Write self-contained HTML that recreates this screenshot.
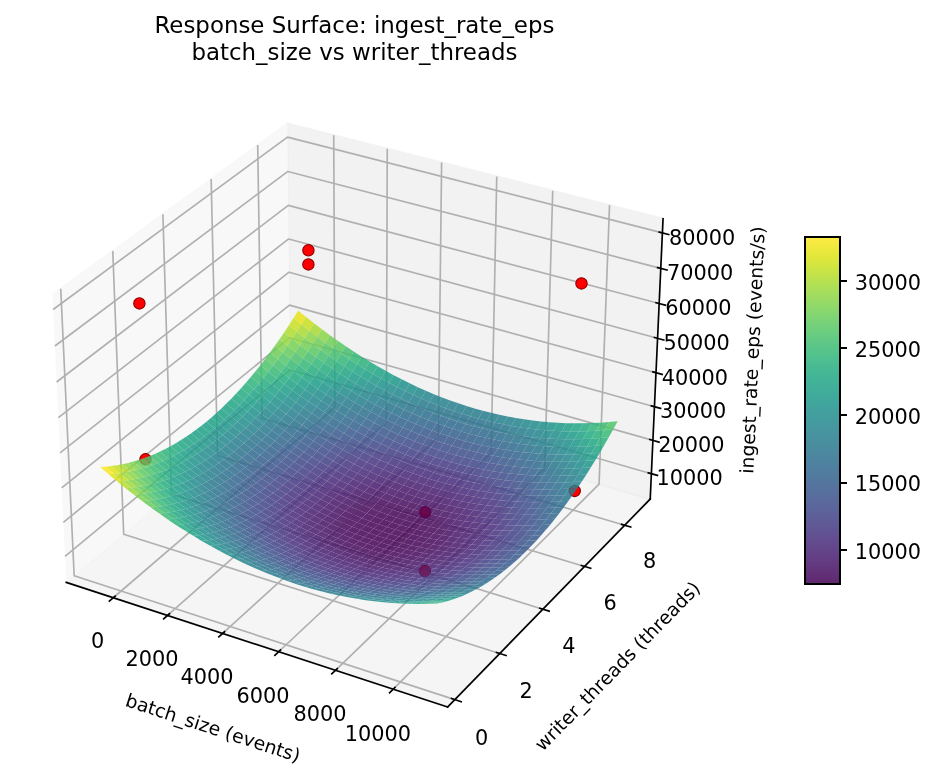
<!DOCTYPE html>
<html lang="en"><head><meta charset="utf-8"><title>Response Surface: ingest_rate_eps</title><style>html,body{margin:0;padding:0;background:#fff}svg{display:block}</style></head><body><svg width="935" height="765" viewBox="64.8 20.616 448.8 367.2" stroke-linejoin="round" stroke-linecap="butt" font-family="'DejaVu Sans','Liberation Sans',sans-serif"><g><g><path d="M0 432L576 432L576 0L0 0z" fill="#ffffff"/></g><g id="cube" transform="translate(0 -.576)"><g><path d="M72 381.096L397.872 381.096L397.872 55.224L72 55.224z" fill="#ffffff"/></g><g><g><path d="M96.606 300.746L204.219 210.543L202.723 80.453L89.96 162.742" fill="#f2f2f2" opacity="0.5" stroke="#f2f2f2" stroke-linejoin="miter"/></g></g><g><g><path d="M204.219 210.543L376.901 260.734L383.063 126.163L202.723 80.453" fill="#e6e6e6" opacity="0.5" stroke="#e6e6e6" stroke-linejoin="miter"/></g></g><g><g><path d="M96.606 300.746L279.656 360.531L376.901 260.734L204.219 210.543" fill="#ececec" opacity="0.5" stroke="#ececec" stroke-linejoin="miter"/></g></g><g><g><path d="M119.159 308.112L225.577 216.75L224.987 86.096" fill="none" stroke="#b0b0b0" stroke-width="0.8"/><path d="M145.211 316.621L250.22 223.913L250.69 92.611" fill="none" stroke="#b0b0b0" stroke-width="0.8"/><path d="M171.665 325.261L275.212 231.177L276.772 99.222" fill="none" stroke="#b0b0b0" stroke-width="0.8"/><path d="M198.531 334.035L300.559 238.545L303.242 105.931" fill="none" stroke="#b0b0b0" stroke-width="0.8"/><path d="M225.818 342.947L326.27 246.018L330.108 112.741" fill="none" stroke="#b0b0b0" stroke-width="0.8"/><path d="M253.536 352L352.353 253.599L357.38 119.654" fill="none" stroke="#b0b0b0" stroke-width="0.8"/></g></g><g><g><path d="M93.95 159.83L100.399 297.566L283.099 356.997" fill="none" stroke="#b0b0b0" stroke-width="0.8"/><path d="M118.927 141.603L124.172 277.64L304.648 334.883" fill="none" stroke="#b0b0b0" stroke-width="0.8"/><path d="M142.976 124.053L147.099 258.422L325.391 313.595" fill="none" stroke="#b0b0b0" stroke-width="0.8"/><path d="M166.149 107.143L169.225 239.875L345.373 293.089" fill="none" stroke="#b0b0b0" stroke-width="0.8"/><path d="M188.491 90.839L190.592 221.965L364.634 273.323" fill="none" stroke="#b0b0b0" stroke-width="0.8"/></g></g><g><g><path d="M377.458 248.565L204.084 198.756L96.006 288.286" fill="none" stroke="#b0b0b0" stroke-width="0.8"/><path d="M378.19 232.578L203.906 183.279L95.217 271.911" fill="none" stroke="#b0b0b0" stroke-width="0.8"/><path d="M378.93 216.421L203.726 167.644L94.42 255.354" fill="none" stroke="#b0b0b0" stroke-width="0.8"/><path d="M379.678 200.09L203.544 151.85L93.613 238.613" fill="none" stroke="#b0b0b0" stroke-width="0.8"/><path d="M380.434 183.584L203.361 135.894L92.798 221.684" fill="none" stroke="#b0b0b0" stroke-width="0.8"/><path d="M381.198 166.898L203.175 119.773L91.974 204.566" fill="none" stroke="#b0b0b0" stroke-width="0.8"/><path d="M381.97 150.031L202.988 103.486L91.14 187.253" fill="none" stroke="#b0b0b0" stroke-width="0.8"/><path d="M382.751 132.98L202.799 87.029L90.297 169.743" fill="none" stroke="#b0b0b0" stroke-width="0.8"/></g></g><g><g><path d="M96.606 300.746L279.656 360.531" fill="none" stroke="#000" stroke-width="0.8" stroke-linecap="square"/></g><g><g><path d="M120.086 307.316L117.301 309.707" fill="none" stroke="#000" stroke-width="0.8" stroke-linecap="square"/></g><g><text x="111.644" y="332.051" font-size="10" text-anchor="middle">0</text></g></g><g><g><path d="M146.126 315.813L143.377 318.24" fill="none" stroke="#000" stroke-width="0.8" stroke-linecap="square"/></g><g><text x="137.719" y="340.707" font-size="10" text-anchor="middle">2000</text></g></g><g><g><path d="M172.568 324.44L169.855 326.906" fill="none" stroke="#000" stroke-width="0.8" stroke-linecap="square"/></g><g><text x="164.197" y="349.497" font-size="10" text-anchor="middle">4000</text></g></g><g><g><path d="M199.422 333.202L196.747 335.706" fill="none" stroke="#000" stroke-width="0.8" stroke-linecap="square"/></g><g><text x="191.088" y="358.424" font-size="10" text-anchor="middle">6000</text></g></g><g><g><path d="M226.695 342.101L224.06 344.644" fill="none" stroke="#000" stroke-width="0.8" stroke-linecap="square"/></g><g><text x="218.402" y="367.491" font-size="10" text-anchor="middle">8000</text></g></g><g><g><path d="M254.399 351.14L251.805 353.723" fill="none" stroke="#000" stroke-width="0.8" stroke-linecap="square"/></g><g><text x="246.149" y="376.702" font-size="10" text-anchor="middle">10000</text></g></g><g><text x="166.096" y="373.566" transform="rotate(-341.913 166.096 373.566)" font-size="9" text-anchor="middle">batch_size (events)</text></g></g><g><g><path d="M376.901 260.734L279.656 360.531" fill="none" stroke="#000" stroke-width="0.8" stroke-linecap="square"/></g><g><g><path d="M281.559 356.497L286.183 358.001" fill="none" stroke="#000" stroke-width="0.8" stroke-linecap="square"/></g><g><text x="296.014" y="378.635" font-size="10" text-anchor="middle">0</text></g></g><g><g><path d="M303.129 334.401L307.692 335.848" fill="none" stroke="#000" stroke-width="0.8" stroke-linecap="square"/></g><g><text x="317.328" y="356.252" font-size="10" text-anchor="middle">2</text></g></g><g><g><path d="M323.892 313.131L328.395 314.525" fill="none" stroke="#000" stroke-width="0.8" stroke-linecap="square"/></g><g><text x="337.843" y="334.708" font-size="10" text-anchor="middle">4</text></g></g><g><g><path d="M343.892 292.642L348.337 293.985" fill="none" stroke="#000" stroke-width="0.8" stroke-linecap="square"/></g><g><text x="357.605" y="313.955" font-size="10" text-anchor="middle">6</text></g></g><g><g><path d="M363.172 272.892L367.56 274.187" fill="none" stroke="#000" stroke-width="0.8" stroke-linecap="square"/></g><g><text x="376.654" y="293.951" font-size="10" text-anchor="middle">8</text></g></g><g><text x="363.428" y="343.111" transform="rotate(-45.742 363.428 343.111)" font-size="9" text-anchor="middle">writer_threads (threads)</text></g></g><g><g><path d="M376.901 260.734L383.063 126.163" fill="none" stroke="#000" stroke-width="0.8" stroke-linecap="square"/></g><g><g><path d="M376.002 248.147L380.372 249.403" fill="none" stroke="#000" stroke-width="0.8" stroke-linecap="square"/></g><g><text x="395.789" y="254.153" font-size="10" text-anchor="middle">10000</text></g></g><g><g><path d="M376.727 232.164L381.12 233.407" fill="none" stroke="#000" stroke-width="0.8" stroke-linecap="square"/></g><g><text x="396.616" y="238.192" font-size="10" text-anchor="middle">20000</text></g></g><g><g><path d="M377.458 216.011L381.876 217.241" fill="none" stroke="#000" stroke-width="0.8" stroke-linecap="square"/></g><g><text x="397.452" y="222.061" font-size="10" text-anchor="middle">30000</text></g></g><g><g><path d="M378.198 199.685L382.64 200.902" fill="none" stroke="#000" stroke-width="0.8" stroke-linecap="square"/></g><g><text x="398.297" y="205.757" font-size="10" text-anchor="middle">40000</text></g></g><g><g><path d="M378.946 183.183L383.413 184.386" fill="none" stroke="#000" stroke-width="0.8" stroke-linecap="square"/></g><g><text x="399.151" y="189.279" font-size="10" text-anchor="middle">50000</text></g></g><g><g><path d="M379.701 166.502L384.194 167.691" fill="none" stroke="#000" stroke-width="0.8" stroke-linecap="square"/></g><g><text x="400.014" y="172.622" font-size="10" text-anchor="middle">60000</text></g></g><g><g><path d="M380.465 149.64L384.983 150.815" fill="none" stroke="#000" stroke-width="0.8" stroke-linecap="square"/></g><g><text x="400.887" y="155.785" font-size="10" text-anchor="middle">70000</text></g></g><g><g><path d="M381.238 132.593L385.781 133.753" fill="none" stroke="#000" stroke-width="0.8" stroke-linecap="square"/></g><g><text x="401.769" y="138.763" font-size="10" text-anchor="middle">80000</text></g></g><g><text x="429.122" y="189.33" transform="rotate(-87.378 429.122 189.33)" font-size="9" text-anchor="middle">ingest_rate_eps (events/s)</text></g></g><g><g><defs><path id="m006bedfbd0" d="M0 2.739C.726 2.739 1.423 2.45 1.936 1.936C2.45 1.423 2.739 .726 2.739 0C2.739-.726 2.45-1.423 1.936-1.936C1.423-2.45 .726-2.739 0-2.739C-.726-2.739-1.423-2.45-1.936-1.936C-2.45-1.423-2.739-.726-2.739 0C-2.739 .726-2.45 1.423-1.936 1.936C-1.423 2.45-.726 2.739 0 2.739z" stroke="#8b0000" stroke-width="0.5"/></defs><g><use x="212.832" y="148.104" fill="#ff0000" stroke="#8b0000" stroke-width="0.5" href="#m006bedfbd0"/><use x="212.832" y="141.336" fill="#ff0000" stroke="#8b0000" stroke-width="0.5" href="#m006bedfbd0"/><use x="340.656" y="256.824" fill="#ff0000" stroke="#8b0000" stroke-width="0.5" href="#m006bedfbd0"/><use x="343.92" y="157.224" fill="#ff0000" stroke="#8b0000" stroke-width="0.5" href="#m006bedfbd0"/><use x="134.64" y="241.656" fill="#ff0000" stroke="#8b0000" stroke-width="0.5" href="#m006bedfbd0"/><use x="131.712" y="166.824" fill="#ff0000" stroke="#8b0000" stroke-width="0.5" href="#m006bedfbd0"/><use x="268.704" y="295.272" fill="#ff0000" stroke="#8b0000" stroke-width="0.5" href="#m006bedfbd0"/><use x="268.944" y="267.048" fill="#ff0000" stroke="#8b0000" stroke-width="0.5" href="#m006bedfbd0"/></g></g><g fill-opacity=".85"><path d="M205.7 173.87l3.8 3.08 2.24-3.57-3.8-3.08z" fill="#e7e419"/><path d="M209.5 176.95l3.8 3 2.24-3.59-3.8-2.98z" fill="#c8e020"/><path d="M213.3 179.95l3.81 2.9 2.23-3.59-3.8-2.9z" fill="#a8db34"/><path d="M203.45 177.35l3.8 3.09 2.25-3.49-3.8-3.08z" fill="#cae11f"/><path d="M217.11 182.85l3.81 2.82 2.23-3.6-3.81-2.81z" fill="#8bd646"/><path d="M207.25 180.44l3.81 3.01 2.24-3.5-3.8-3z" fill="#aadc32"/><path d="M220.92 185.67l3.82 2.72 2.22-3.61-3.81-2.71z" fill="#70cf57"/><path d="M211.06 183.45l3.81 2.91 2.24-3.51-3.81-2.9z" fill="#8bd646"/><path d="M224.74 188.39l3.81 2.64 2.22-3.62-3.81-2.63z" fill="#5ac864"/><path d="M201.19 180.75l3.81 3.1 2.25-3.41-3.8-3.09z" fill="#b0dd2f"/><path d="M214.87 186.36l3.82 2.83 2.23-3.52-3.81-2.82z" fill="#70cf57"/><path d="M228.55 191.03l3.83 2.54 2.21-3.62-3.82-2.54z" fill="#46c06f"/><path d="M205 183.85l3.81 3.01 2.25-3.41-3.81-3.01z" fill="#90d743"/><path d="M218.69 189.19l3.82 2.73 2.23-3.53-3.82-2.72z" fill="#58c765"/><path d="M208.81 186.86l3.82 2.93 2.24-3.43-3.81-2.91z" fill="#73d056"/><path d="M232.38 193.57l3.82 2.46 2.22-3.64-3.83-2.44z" fill="#38b977"/><path d="M222.51 191.92l3.82 2.64 2.22-3.53-3.81-2.64z" fill="#44bf70"/><path d="M198.93 184.06l3.81 3.12 2.26-3.33-3.81-3.1z" fill="#98d83e"/><path d="M212.63 189.79l3.82 2.83 2.24-3.43-3.82-2.83z" fill="#5ac864"/><path d="M236.2 196.03l3.83 2.37 2.21-3.65-3.82-2.36z" fill="#2cb17e"/><path d="M226.33 194.56l3.82 2.56 2.23-3.55-3.83-2.54z" fill="#35b779"/><path d="M202.74 187.18l3.82 3.02 2.25-3.34-3.81-3.01z" fill="#77d153"/><path d="M216.45 192.62l3.82 2.74 2.24-3.44-3.82-2.73z" fill="#44bf70"/><path d="M206.56 190.2l3.82 2.93 2.25-3.34-3.82-2.93z" fill="#5ec962"/><path d="M230.15 197.12l3.83 2.46 2.22-3.55-3.82-2.46z" fill="#29af7f"/><path d="M240.03 198.4l3.84 2.27 2.21-3.65-3.84-2.27z" fill="#24aa83"/><path d="M220.27 195.36l3.82 2.65 2.24-3.45-3.82-2.64z" fill="#34b679"/><path d="M210.38 193.13l3.82 2.84 2.25-3.35-3.82-2.83z" fill="#46c06f"/><path d="M196.65 187.3l3.82 3.11 2.27-3.23-3.81-3.12z" fill="#81d34d"/><path d="M233.98 199.58l3.84 2.38 2.21-3.56-3.83-2.37z" fill="#22a785"/><path d="M224.09 198.01l3.83 2.57 2.23-3.46-3.82-2.56z" fill="#28ae80"/><path d="M243.87 200.67l3.84 2.19 2.21-3.66-3.84-2.18z" fill="#20a386"/><path d="M200.47 190.41l3.82 3.03 2.27-3.24-3.82-3.02z" fill="#65cb5e"/><path d="M214.2 195.97l3.83 2.75 2.24-3.36-3.82-2.74z" fill="#35b779"/><path d="M237.82 201.96l3.84 2.28 2.21-3.57-3.84-2.27z" fill="#1fa188"/><path d="M204.29 193.44l3.83 2.94 2.26-3.25-3.82-2.93z" fill="#4cc26c"/><path d="M227.92 200.58l3.84 2.47 2.22-3.47-3.83-2.46z" fill="#21a685"/><path d="M247.71 202.86l3.85 2.1 2.2-3.67-3.84-2.09z" fill="#1f9e89"/><path d="M218.03 198.72l3.82 2.66 2.24-3.37-3.82-2.65z" fill="#28ae80"/><path d="M208.12 196.38l3.82 2.85 2.26-3.26-3.82-2.84z" fill="#37b878"/><path d="M194.37 190.44l3.83 3.13 2.27-3.16-3.82-3.11z" fill="#6ece58"/><path d="M231.76 203.05l3.84 2.38 2.22-3.47-3.84-2.38z" fill="#1f9e89"/><path d="M241.66 204.24l3.84 2.2 2.21-3.58-3.84-2.19z" fill="#1f9a8a"/><path d="M221.85 201.38l3.84 2.57 2.23-3.37-3.83-2.57z" fill="#21a585"/><path d="M251.56 204.96l3.86 2.01 2.19-3.68-3.85-2z" fill="#1f988b"/><path d="M198.2 193.57l3.82 3.04 2.27-3.17-3.82-3.03z" fill="#52c569"/><path d="M211.94 199.23l3.83 2.76 2.26-3.27-3.83-2.75z" fill="#29af7f"/><path d="M235.6 205.43l3.84 2.29 2.22-3.48-3.84-2.28z" fill="#1f968b"/><path d="M225.69 203.95l3.84 2.48 2.23-3.38-3.84-2.47z" fill="#1e9d89"/><path d="M245.5 206.44l3.86 2.1 2.2-3.58-3.85-2.1z" fill="#20938c"/><path d="M202.02 196.61l3.83 2.95 2.27-3.18-3.83-2.94z" fill="#3bbb75"/><path d="M215.77 201.99l3.84 2.67 2.24-3.28-3.82-2.66z" fill="#21a685"/><path d="M255.42 206.97l3.86 1.92 2.19-3.69-3.86-1.91z" fill="#20928c"/><path d="M205.85 199.56l3.83 2.85 2.26-3.18-3.82-2.85z" fill="#2cb17e"/><path d="M192.08 193.5l3.83 3.14 2.29-3.07-3.83-3.13z" fill="#5cc863"/><path d="M229.53 206.43l3.84 2.39 2.23-3.39-3.84-2.38z" fill="#1f958b"/><path d="M239.44 207.72l3.85 2.21 2.21-3.49-3.84-2.2z" fill="#21908d"/><path d="M219.61 204.66l3.84 2.58 2.24-3.29-3.84-2.57z" fill="#1e9d89"/><path d="M249.36 208.54l3.85 2.02 2.21-3.59-3.86-2.01z" fill="#218e8d"/><path d="M195.91 196.64l3.83 3.05 2.28-3.08-3.82-3.04z" fill="#44bf70"/><path d="M209.68 202.41l3.84 2.77 2.25-3.19-3.83-2.76z" fill="#22a785"/><path d="M259.28 208.89l3.87 1.82 2.19-3.69-3.87-1.82z" fill="#218f8d"/><path d="M233.37 208.82l3.85 2.31 2.22-3.41-3.84-2.29z" fill="#218e8d"/><path d="M243.29 209.93l3.86 2.11 2.21-3.5-3.86-2.1z" fill="#238a8d"/><path d="M223.45 207.24l3.84 2.49 2.24-3.3-3.84-2.48z" fill="#1f948c"/><path d="M199.74 199.69l3.84 2.95 2.27-3.08-3.83-2.95z" fill="#31b57b"/><path d="M253.21 210.56l3.87 1.93 2.2-3.6-3.86-1.92z" fill="#23898e"/><path d="M213.52 205.18l3.83 2.68 2.26-3.2-3.84-2.67z" fill="#1f9e89"/><path d="M263.15 210.71l3.87 1.74 2.19-3.7-3.87-1.73z" fill="#238a8d"/><path d="M203.58 202.64l3.83 2.87 2.27-3.1-3.83-2.85z" fill="#24aa83"/><path d="M237.22 211.13l3.85 2.21 2.22-3.41-3.85-2.21z" fill="#24878e"/><path d="M227.29 209.73l3.84 2.4 2.24-3.31-3.84-2.39z" fill="#228d8d"/><path d="M189.78 196.48l3.84 3.15 2.29-2.99-3.83-3.14z" fill="#4ec36b"/><path d="M247.15 212.04l3.86 2.03 2.2-3.51-3.85-2.02z" fill="#25848e"/><path d="M217.35 207.86l3.85 2.59 2.25-3.21-3.84-2.58z" fill="#1f958b"/><path d="M257.08 212.49l3.87 1.83 2.2-3.61-3.87-1.82z" fill="#25848e"/><path d="M207.41 205.51l3.84 2.78 2.27-3.11-3.84-2.77z" fill="#1fa188"/><path d="M193.62 199.63l3.83 3.05 2.29-2.99-3.83-3.05z" fill="#38b977"/><path d="M231.13 212.13l3.86 2.31 2.23-3.31-3.85-2.31z" fill="#25858e"/><path d="M241.07 213.34l3.86 2.12 2.22-3.42-3.86-2.11z" fill="#26818e"/><path d="M221.2 210.45l3.84 2.5 2.25-3.22-3.84-2.49z" fill="#228d8d"/><path d="M267.02 212.45l3.89 1.65 2.18-3.71-3.88-1.64z" fill="#24878e"/><path d="M251.01 214.07l3.87 1.93 2.2-3.51-3.87-1.93z" fill="#277f8e"/><path d="M197.45 202.68l3.84 2.97 2.29-3.01-3.84-2.95z" fill="#28ae80"/><path d="M211.25 208.29l3.84 2.68 2.26-3.11-3.83-2.68z" fill="#1f968b"/><path d="M260.95 214.32l3.88 1.75 2.19-3.62-3.87-1.74z" fill="#27808e"/><path d="M234.99 214.44l3.85 2.22 2.23-3.32-3.85-2.21z" fill="#277f8e"/><path d="M225.04 212.95l3.85 2.4 2.24-3.22-3.84-2.4z" fill="#25848e"/><path d="M201.29 205.65l3.84 2.87 2.28-3.01-3.83-2.87z" fill="#20a386"/><path d="M244.93 215.46l3.86 2.03 2.22-3.42-3.86-2.03z" fill="#297b8e"/><path d="M187.48 199.37l3.84 3.16 2.3-2.9-3.84-3.15z" fill="#42be71"/><path d="M215.09 210.97l3.85 2.6 2.26-3.12-3.85-2.59z" fill="#218e8d"/><path d="M254.88 216l3.87 1.85 2.2-3.53-3.87-1.83z" fill="#297a8e"/><path d="M270.91 214.1l3.89 1.56 2.18-3.72-3.89-1.55z" fill="#25848e"/><path d="M205.13 208.52l3.85 2.79 2.27-3.02-3.84-2.78z" fill="#1f998a"/><path d="M191.32 202.53l3.84 3.06 2.29-2.91-3.83-3.05z" fill="#2eb37c"/><path d="M228.89 215.35l3.86 2.32 2.24-3.23-3.86-2.31z" fill="#287d8e"/><path d="M238.84 216.66l3.87 2.13 2.22-3.33-3.86-2.12z" fill="#2a788e"/><path d="M264.83 216.07l3.89 1.66 2.19-3.63-3.89-1.65z" fill="#287d8e"/><path d="M218.94 213.57l3.85 2.51 2.25-3.13-3.84-2.5z" fill="#25858e"/><path d="M248.79 217.49l3.88 1.95 2.21-3.44-3.87-1.93z" fill="#2a768e"/><path d="M195.16 205.59l3.84 2.98 2.29-2.92-3.84-2.97z" fill="#22a884"/><path d="M208.98 211.31l3.84 2.69 2.27-3.03-3.84-2.68z" fill="#21908d"/><path d="M258.75 217.85l3.88 1.76 2.2-3.54-3.88-1.75z" fill="#2a768e"/><path d="M274.8 215.66l3.9 1.47 2.18-3.72-3.9-1.47z" fill="#26828e"/><path d="M232.75 217.67l3.86 2.23 2.23-3.24-3.85-2.22z" fill="#2a768e"/><path d="M242.71 218.79l3.87 2.05 2.21-3.35-3.86-2.03z" fill="#2c728e"/><path d="M222.79 216.08l3.86 2.41 2.24-3.14-3.85-2.4z" fill="#287d8e"/><path d="M199 208.57l3.85 2.88 2.28-2.93-3.84-2.87z" fill="#1f9e89"/><path d="M268.72 217.73l3.89 1.57 2.19-3.64-3.89-1.56z" fill="#297a8e"/><path d="M252.67 219.44l3.88 1.85 2.2-3.44-3.87-1.85z" fill="#2c718e"/><path d="M212.82 214l3.86 2.61 2.26-3.04-3.85-2.6z" fill="#24878e"/><path d="M185.16 202.18l3.85 3.16 2.31-2.81-3.84-3.16z" fill="#38b977"/><path d="M262.63 219.61l3.89 1.66 2.2-3.54-3.89-1.66z" fill="#2c728e"/><path d="M202.85 211.45l3.85 2.79 2.28-2.93-3.85-2.79z" fill="#20938c"/><path d="M236.61 219.9l3.87 2.14 2.23-3.25-3.87-2.13z" fill="#2d718e"/><path d="M226.65 218.49l3.86 2.33 2.24-3.15-3.86-2.32z" fill="#2a768e"/><path d="M189.01 205.34l3.84 3.08 2.31-2.83-3.84-3.06z" fill="#27ad81"/><path d="M246.58 220.84l3.87 1.95 2.22-3.35-3.88-1.95z" fill="#2e6d8e"/><path d="M278.7 217.13l3.91 1.38 2.17-3.73-3.9-1.37z" fill="#27808e"/><path d="M216.68 216.61l3.85 2.51 2.26-3.04-3.85-2.51z" fill="#277f8e"/><path d="M256.55 221.29l3.88 1.77 2.2-3.45-3.88-1.76z" fill="#2e6d8e"/><path d="M272.61 219.3l3.91 1.48 2.18-3.65-3.9-1.47z" fill="#2a778e"/><path d="M192.85 208.42l3.85 2.98 2.3-2.83-3.84-2.98z" fill="#1fa287"/><path d="M206.7 214.24l3.85 2.71 2.27-2.95-3.84-2.69z" fill="#238a8d"/><path d="M230.51 220.82l3.86 2.24 2.24-3.16-3.86-2.23z" fill="#2e6f8e"/><path d="M240.48 222.04l3.87 2.05 2.23-3.25-3.87-2.05z" fill="#306a8e"/><path d="M220.53 219.12l3.86 2.43 2.26-3.06-3.86-2.41z" fill="#2a768e"/><path d="M266.52 221.27l3.9 1.58 2.19-3.55-3.89-1.57z" fill="#2d708e"/><path d="M250.45 222.79l3.88 1.86 2.22-3.36-3.88-1.85z" fill="#30698e"/><path d="M196.7 211.4l3.85 2.89 2.3-2.84-3.85-2.88z" fill="#1f988b"/><path d="M210.55 216.95l3.85 2.61 2.28-2.95-3.86-2.61z" fill="#26818e"/><path d="M282.61 218.51l3.92 1.29 2.17-3.74-3.92-1.28z" fill="#277f8e"/><path d="M182.84 204.9l3.85 3.17 2.32-2.73-3.85-3.16z" fill="#2fb47c"/><path d="M260.43 223.06l3.9 1.67 2.19-3.46-3.89-1.66z" fill="#306a8e"/><path d="M276.52 220.78l3.91 1.38 2.18-3.65-3.91-1.38z" fill="#2b758e"/><path d="M234.37 223.06l3.87 2.15 2.24-3.17-3.87-2.14z" fill="#30698e"/><path d="M224.39 221.55l3.87 2.34 2.25-3.07-3.86-2.33z" fill="#2e6f8e"/><path d="M200.55 214.29l3.86 2.81 2.29-2.86-3.85-2.79z" fill="#218e8d"/><path d="M244.35 224.09l3.88 1.96 2.22-3.26-3.87-1.95z" fill="#32658e"/><path d="M186.69 208.07l3.85 3.09 2.31-2.74-3.84-3.08z" fill="#23a983"/><path d="M214.4 219.56l3.86 2.53 2.27-2.97-3.85-2.51z" fill="#2a788e"/><path d="M270.42 222.85l3.91 1.49 2.19-3.56-3.91-1.48z" fill="#2e6e8e"/><path d="M254.33 224.65l3.89 1.77 2.21-3.36-3.88-1.77z" fill="#32648e"/><path d="M204.41 217.1l3.85 2.71 2.29-2.86-3.85-2.71z" fill="#25848e"/><path d="M190.54 211.16l3.85 2.99 2.31-2.75-3.85-2.98z" fill="#1f9e89"/><path d="M286.53 219.8l3.93 1.2 2.16-3.75-3.92-1.19z" fill="#277e8e"/><path d="M228.26 223.89l3.86 2.24 2.25-3.07-3.86-2.24z" fill="#31688e"/><path d="M264.33 224.73l3.9 1.59 2.19-3.47-3.9-1.58z" fill="#31678e"/><path d="M238.24 225.21l3.88 2.06 2.23-3.18-3.87-2.05z" fill="#33638d"/><path d="M218.26 222.09l3.87 2.43 2.26-2.97-3.86-2.43z" fill="#2d718e"/><path d="M248.23 226.05l3.89 1.88 2.21-3.28-3.88-1.86z" fill="#34608d"/><path d="M280.43 222.16l3.92 1.3 2.18-3.66-3.92-1.29z" fill="#2b748e"/><path d="M194.39 214.15l3.86 2.9 2.3-2.76-3.85-2.89z" fill="#20928c"/><path d="M208.26 219.81l3.86 2.62 2.28-2.87-3.85-2.61z" fill="#297b8e"/><path d="M258.22 226.42l3.9 1.69 2.21-3.38-3.9-1.67z" fill="#34618d"/><path d="M274.33 224.34l3.92 1.39 2.18-3.57-3.91-1.38z" fill="#2f6c8e"/><path d="M180.51 207.54l3.85 3.18 2.33-2.65-3.85-3.17z" fill="#2ab07f"/><path d="M232.12 226.13l3.88 2.16 2.24-3.08-3.87-2.15z" fill="#34618d"/><path d="M242.12 227.27l3.88 1.97 2.23-3.19-3.88-1.96z" fill="#365d8d"/><path d="M222.13 224.52l3.87 2.35 2.26-2.98-3.87-2.34z" fill="#30698e"/><path d="M198.25 217.05l3.86 2.81 2.3-2.76-3.86-2.81z" fill="#23888e"/><path d="M268.23 226.32l3.91 1.49 2.19-3.47-3.91-1.49z" fill="#32648e"/><path d="M252.12 227.93l3.89 1.78 2.21-3.29-3.89-1.77z" fill="#365c8d"/><path d="M290.46 221l3.93 1.11 2.17-3.76-3.94-1.1z" fill="#277e8e"/><path d="M184.36 210.72l3.86 3.09 2.32-2.65-3.85-3.09z" fill="#20a486"/><path d="M212.12 222.43l3.87 2.54 2.27-2.88-3.86-2.53z" fill="#2c728e"/><path d="M284.35 223.46l3.93 1.21 2.18-3.67-3.93-1.2z" fill="#2c738e"/><path d="M262.12 228.11l3.91 1.59 2.2-3.38-3.9-1.59z" fill="#365d8d"/><path d="M202.11 219.86l3.86 2.73 2.29-2.78-3.85-2.71z" fill="#277f8e"/><path d="M236 228.29l3.88 2.07 2.24-3.09-3.88-2.06z" fill="#375b8d"/><path d="M188.22 213.81l3.86 3 2.31-2.66-3.85-2.99z" fill="#1f998a"/><path d="M226 226.87l3.87 2.25 2.25-2.99-3.86-2.24z" fill="#34618d"/><path d="M278.25 225.73l3.92 1.31 2.18-3.58-3.92-1.3z" fill="#2f6b8e"/><path d="M246 229.24l3.89 1.88 2.23-3.19-3.89-1.88z" fill="#38588c"/><path d="M215.99 224.97l3.87 2.44 2.27-2.89-3.87-2.43z" fill="#306a8e"/><path d="M256.01 229.71l3.9 1.69 2.21-3.29-3.9-1.69z" fill="#38588c"/><path d="M272.14 227.81l3.92 1.41 2.19-3.49-3.92-1.39z" fill="#33628d"/><path d="M192.08 216.81l3.86 2.91 2.31-2.67-3.86-2.9z" fill="#218e8d"/><path d="M205.97 222.59l3.87 2.63 2.28-2.79-3.86-2.62z" fill="#2a768e"/><path d="M294.39 222.11l3.95 1.02 2.17-3.77-3.95-1.01z" fill="#277e8e"/><path d="M229.87 229.12l3.88 2.17 2.25-3-3.88-2.16z" fill="#375b8d"/><path d="M178.16 210.09l3.86 3.19 2.34-2.56-3.85-3.18z" fill="#25ac82"/><path d="M239.88 230.36l3.89 1.98 2.23-3.1-3.88-1.97z" fill="#39558c"/><path d="M266.03 229.7l3.91 1.5 2.2-3.39-3.91-1.49z" fill="#375b8d"/><path d="M288.28 224.67l3.94 1.12 2.17-3.68-3.93-1.11z" fill="#2c738e"/><path d="M219.86 227.41l3.87 2.35 2.27-2.89-3.87-2.35z" fill="#33638d"/><path d="M249.89 231.12l3.9 1.79 2.22-3.2-3.89-1.78z" fill="#3a538b"/><path d="M195.94 219.72l3.86 2.83 2.31-2.69-3.86-2.81z" fill="#25848e"/><path d="M282.17 227.04l3.93 1.22 2.18-3.59-3.93-1.21z" fill="#306a8e"/><path d="M209.84 225.22l3.87 2.54 2.28-2.79-3.87-2.54z" fill="#2e6e8e"/><path d="M182.02 213.28l3.87 3.1 2.33-2.57-3.86-3.09z" fill="#1fa188"/><path d="M259.91 231.4l3.91 1.6 2.21-3.3-3.91-1.59z" fill="#3a548c"/><path d="M276.06 229.22l3.92 1.31 2.19-3.49-3.92-1.31z" fill="#34618d"/><path d="M233.75 231.29l3.89 2.07 2.24-3-3.88-2.07z" fill="#3a548c"/><path d="M199.8 222.55l3.87 2.73 2.3-2.69-3.86-2.73z" fill="#297a8e"/><path d="M223.73 229.76l3.88 2.27 2.26-2.91-3.87-2.25z" fill="#375b8d"/><path d="M243.77 232.34l3.89 1.88 2.23-3.1-3.89-1.88z" fill="#3c508b"/><path d="M185.89 216.38l3.86 3.01 2.33-2.58-3.86-3z" fill="#1f958b"/><path d="M298.34 223.13l3.96 .93 2.17-3.78-3.96-.92z" fill="#277f8e"/><path d="M213.71 227.76l3.87 2.45 2.28-2.8-3.87-2.44z" fill="#32658e"/><path d="M269.94 231.2l3.92 1.42 2.2-3.4-3.92-1.41z" fill="#38598c"/><path d="M253.79 232.91l3.91 1.7 2.21-3.21-3.9-1.69z" fill="#3c4f8a"/><path d="M292.22 225.79l3.96 1.02 2.16-3.68-3.95-1.02z" fill="#2c738e"/><path d="M189.75 219.39l3.87 2.92 2.32-2.59-3.86-2.91z" fill="#238a8d"/><path d="M203.67 225.28l3.87 2.64 2.3-2.7-3.87-2.63z" fill="#2c718e"/><path d="M286.1 228.26l3.95 1.12 2.17-3.59-3.94-1.12z" fill="#306a8e"/><path d="M263.82 233l3.92 1.51 2.2-3.31-3.91-1.5z" fill="#3b518b"/><path d="M227.61 232.03l3.88 2.17 2.26-2.91-3.88-2.17z" fill="#3a548c"/><path d="M237.64 233.36l3.89 1.99 2.24-3.01-3.89-1.98z" fill="#3d4e8a"/><path d="M175.81 212.55l3.87 3.21 2.34-2.48-3.86-3.19z" fill="#23a983"/><path d="M217.58 230.21l3.88 2.36 2.27-2.81-3.87-2.35z" fill="#365d8d"/><path d="M247.66 234.22l3.9 1.8 2.23-3.11-3.9-1.79z" fill="#3e4a89"/><path d="M279.98 230.53l3.94 1.23 2.18-3.5-3.93-1.22z" fill="#34608d"/><path d="M193.62 222.31l3.87 2.83 2.31-2.59-3.86-2.83z" fill="#27808e"/><path d="M207.54 227.92l3.87 2.55 2.3-2.71-3.87-2.54z" fill="#30698e"/><path d="M257.7 234.61l3.91 1.61 2.21-3.22-3.91-1.6z" fill="#3e4c8a"/><path d="M273.86 232.62l3.93 1.32 2.19-3.41-3.92-1.31z" fill="#38588c"/><path d="M179.68 215.76l3.86 3.11 2.35-2.49-3.87-3.1z" fill="#1e9d89"/><path d="M302.3 224.06l3.98 .83 2.15-3.79-3.96-.82z" fill="#26818e"/><path d="M231.49 234.2l3.89 2.08 2.26-2.92-3.89-2.07z" fill="#3d4d8a"/><path d="M296.18 226.81l3.96 .94 2.16-3.69-3.96-.93z" fill="#2b748e"/><path d="M241.53 235.35l3.9 1.9 2.23-3.03-3.89-1.88z" fill="#3f4889"/><path d="M221.46 232.57l3.88 2.28 2.27-2.82-3.88-2.27z" fill="#39558c"/><path d="M197.49 225.14l3.87 2.74 2.31-2.6-3.87-2.73z" fill="#2a768e"/><path d="M267.74 234.51l3.92 1.42 2.2-3.31-3.92-1.42z" fill="#3c4f8a"/><path d="M290.05 229.38l3.95 1.04 2.18-3.61-3.96-1.02z" fill="#306a8e"/><path d="M183.54 218.87l3.87 3.02 2.34-2.5-3.86-3.01z" fill="#20928c"/><path d="M251.56 236.02l3.91 1.71 2.23-3.12-3.91-1.7z" fill="#3f4788"/><path d="M211.41 230.47l3.88 2.46 2.29-2.72-3.87-2.45z" fill="#34608d"/><path d="M283.92 231.76l3.95 1.13 2.18-3.51-3.95-1.12z" fill="#34608d"/><path d="M261.61 236.22l3.92 1.52 2.21-3.23-3.92-1.51z" fill="#3f4889"/><path d="M201.36 227.88l3.87 2.65 2.31-2.61-3.87-2.64z" fill="#2e6d8e"/><path d="M187.41 221.89l3.88 2.93 2.33-2.51-3.87-2.92z" fill="#24878e"/><path d="M277.79 233.94l3.95 1.23 2.18-3.41-3.94-1.23z" fill="#39568c"/><path d="M235.38 236.28l3.9 2 2.25-2.93-3.89-1.99z" fill="#3f4788"/><path d="M225.34 234.85l3.89 2.18 2.26-2.83-3.88-2.17z" fill="#3d4e8a"/><path d="M245.43 237.25l3.9 1.8 2.23-3.03-3.9-1.8z" fill="#414487"/><path d="M215.29 232.93l3.89 2.37 2.28-2.73-3.88-2.36z" fill="#38588c"/><path d="M306.28 224.89l3.98 .74 2.16-3.79-3.99-.74z" fill="#26828e"/><path d="M173.45 214.93l3.87 3.21 2.36-2.38-3.87-3.21z" fill="#21a685"/><path d="M300.14 227.75l3.97 .84 2.17-3.7-3.98-.83z" fill="#2a768e"/><path d="M271.66 235.93l3.94 1.34 2.19-3.33-3.93-1.32z" fill="#3d4e8a"/><path d="M255.47 237.73l3.92 1.62 2.22-3.13-3.91-1.61z" fill="#414287"/><path d="M191.29 224.82l3.87 2.84 2.33-2.52-3.87-2.83z" fill="#287d8e"/><path d="M294 230.42l3.97 .94 2.17-3.61-3.96-.94z" fill="#2f6b8e"/><path d="M205.23 230.53l3.88 2.56 2.3-2.62-3.87-2.55z" fill="#32648e"/><path d="M177.32 218.14l3.87 3.12 2.35-2.39-3.86-3.11z" fill="#1f9a8a"/><path d="M287.87 232.89l3.96 1.04 2.17-3.51-3.95-1.04z" fill="#34608d"/><path d="M229.23 237.03l3.89 2.09 2.26-2.84-3.89-2.08z" fill="#3f4788"/><path d="M239.28 238.28l3.9 1.9 2.25-2.93-3.9-1.9z" fill="#424186"/><path d="M265.53 237.74l3.93 1.43 2.2-3.24-3.92-1.42z" fill="#404688"/><path d="M219.18 235.3l3.88 2.28 2.28-2.73-3.88-2.28z" fill="#3c508b"/><path d="M249.33 239.05l3.92 1.72 2.22-3.04-3.91-1.71z" fill="#423f85"/><path d="M195.16 227.66l3.88 2.74 2.32-2.52-3.87-2.74z" fill="#2c728e"/><path d="M281.74 235.17l3.95 1.15 2.18-3.43-3.95-1.13z" fill="#39558c"/><path d="M209.11 233.09l3.89 2.47 2.29-2.63-3.88-2.46z" fill="#365c8d"/><path d="M181.19 221.26l3.88 3.03 2.34-2.4-3.87-3.02z" fill="#218f8d"/><path d="M259.39 239.35l3.93 1.53 2.21-3.14-3.92-1.52z" fill="#424086"/><path d="M275.6 237.27l3.94 1.24 2.2-3.34-3.95-1.23z" fill="#3d4d8a"/><path d="M310.26 225.63l4 .66 2.15-3.81-3.99-.64z" fill="#25858e"/><path d="M304.11 228.59l3.99 .76 2.16-3.72-3.98-.74z" fill="#2a788e"/><path d="M233.12 239.12l3.91 2 2.25-2.84-3.9-2z" fill="#424086"/><path d="M199.04 230.4l3.88 2.66 2.31-2.53-3.87-2.65z" fill="#306a8e"/><path d="M223.06 237.58l3.9 2.19 2.27-2.74-3.89-2.18z" fill="#3f4889"/><path d="M243.18 240.18l3.91 1.82 2.24-2.95-3.9-1.8z" fill="#443b84"/><path d="M185.07 224.29l3.87 2.94 2.35-2.41-3.88-2.93z" fill="#25848e"/><path d="M297.97 231.36l3.98 .85 2.16-3.62-3.97-.84z" fill="#2f6c8e"/><path d="M269.46 239.17l3.94 1.34 2.2-3.24-3.94-1.34z" fill="#404588"/><path d="M213 235.56l3.89 2.38 2.29-2.64-3.89-2.37z" fill="#3a538b"/><path d="M291.83 233.93l3.97 .95 2.17-3.52-3.97-.94z" fill="#34618d"/><path d="M253.25 240.77l3.92 1.63 2.22-3.05-3.92-1.62z" fill="#443b84"/><path d="M171.07 217.23l3.88 3.22 2.37-2.31-3.87-3.21z" fill="#20a386"/><path d="M285.69 236.32l3.96 1.05 2.18-3.44-3.96-1.04z" fill="#39568c"/><path d="M188.94 227.23l3.89 2.85 2.33-2.42-3.87-2.84z" fill="#297a8e"/><path d="M202.92 233.06l3.88 2.57 2.31-2.54-3.88-2.56z" fill="#34618d"/><path d="M263.32 240.88l3.93 1.43 2.21-3.14-3.93-1.43z" fill="#433e85"/><path d="M226.96 239.77l3.9 2.1 2.26-2.75-3.89-2.09z" fill="#424186"/><path d="M237.03 241.12l3.9 1.92 2.25-2.86-3.9-1.9z" fill="#443a83"/><path d="M174.95 220.45l3.88 3.13 2.36-2.32-3.87-3.12z" fill="#1f988b"/><path d="M279.54 238.51l3.96 1.15 2.19-3.34-3.95-1.15z" fill="#3d4d8a"/><path d="M216.89 237.94l3.89 2.29 2.28-2.65-3.88-2.28z" fill="#3e4c8a"/><path d="M247.09 242l3.92 1.72 2.24-2.95-3.92-1.72z" fill="#453882"/><path d="M314.26 226.29l4 .56 2.16-3.81-4.01-.56z" fill="#23888e"/><path d="M192.83 230.08l3.88 2.76 2.33-2.44-3.88-2.74z" fill="#2d708e"/><path d="M308.1 229.35l4 .66 2.16-3.72-4-.66z" fill="#297b8e"/><path d="M206.8 235.63l3.89 2.48 2.31-2.55-3.89-2.47z" fill="#38588c"/><path d="M257.17 242.4l3.92 1.53 2.23-3.05-3.93-1.53z" fill="#453882"/><path d="M273.4 240.51l3.95 1.24 2.19-3.24-3.94-1.24z" fill="#414487"/><path d="M301.95 232.21l3.99 .76 2.16-3.62-3.99-.76z" fill="#2e6f8e"/><path d="M178.83 223.58l3.88 3.04 2.36-2.33-3.88-3.03z" fill="#228d8d"/><path d="M295.8 234.88l3.98 .87 2.17-3.54-3.98-.85z" fill="#33638d"/><path d="M230.86 241.87l3.9 2.02 2.27-2.77-3.91-2z" fill="#443a83"/><path d="M240.93 243.04l3.92 1.82 2.24-2.86-3.91-1.82z" fill="#453581"/><path d="M220.78 240.23l3.9 2.2 2.28-2.66-3.9-2.19z" fill="#414487"/><path d="M289.65 237.37l3.97 .96 2.18-3.45-3.97-.95z" fill="#38588c"/><path d="M196.71 232.84l3.89 2.67 2.32-2.45-3.88-2.66z" fill="#31678e"/><path d="M267.25 242.31l3.94 1.35 2.21-3.15-3.94-1.34z" fill="#443b84"/><path d="M182.71 226.62l3.88 2.95 2.35-2.34-3.87-2.94z" fill="#26828e"/><path d="M251.01 243.72l3.93 1.64 2.23-2.96-3.92-1.63z" fill="#46337f"/><path d="M210.69 238.11l3.9 2.39 2.3-2.56-3.89-2.38z" fill="#3c4f8a"/><path d="M283.5 239.66l3.96 1.06 2.19-3.35-3.96-1.05z" fill="#3d4d8a"/><path d="M168.69 219.43l3.88 3.24 2.38-2.22-3.88-3.22z" fill="#1fa287"/><path d="M261.09 243.93l3.94 1.45 2.22-3.07-3.93-1.43z" fill="#453581"/><path d="M200.6 235.51l3.89 2.58 2.31-2.46-3.88-2.57z" fill="#355e8d"/><path d="M186.59 229.57l3.89 2.85 2.35-2.34-3.89-2.85z" fill="#2a778e"/><path d="M277.35 241.75l3.95 1.16 2.2-3.25-3.96-1.15z" fill="#414487"/><path d="M318.26 226.85l4.03 .47 2.14-3.83-4.01-.45z" fill="#228c8d"/><path d="M234.76 243.89l3.91 1.92 2.26-2.77-3.9-1.92z" fill="#463480"/><path d="M312.1 230.01l4.01 .56 2.15-3.72-4-.56z" fill="#277e8e"/><path d="M224.68 242.43l3.9 2.11 2.28-2.67-3.9-2.1z" fill="#433d84"/><path d="M305.94 232.97l4 .67 2.16-3.63-4-.66z" fill="#2d718e"/><path d="M244.85 244.86l3.92 1.73 2.24-2.87-3.92-1.72z" fill="#46307e"/><path d="M214.59 240.5l3.9 2.3 2.29-2.57-3.89-2.29z" fill="#3f4788"/><path d="M299.78 235.75l3.99 .76 2.17-3.54-3.99-.76z" fill="#32658e"/><path d="M172.57 222.67l3.89 3.13 2.37-2.22-3.88-3.13z" fill="#1f968b"/><path d="M271.19 243.66l3.95 1.26 2.21-3.17-3.95-1.24z" fill="#443b84"/><path d="M254.94 245.36l3.93 1.54 2.22-2.97-3.92-1.53z" fill="#46307e"/><path d="M293.62 238.33l3.98 .87 2.18-3.45-3.98-.87z" fill="#38598c"/><path d="M190.48 232.42l3.89 2.77 2.34-2.35-3.88-2.76z" fill="#2e6e8e"/><path d="M204.49 238.09l3.89 2.48 2.31-2.46-3.89-2.48z" fill="#3a548c"/><path d="M176.46 225.8l3.88 3.05 2.37-2.23-3.88-3.04z" fill="#228b8d"/><path d="M287.46 240.72l3.98 .96 2.18-3.35-3.97-.96z" fill="#3d4e8a"/><path d="M228.58 244.54l3.91 2.02 2.27-2.67-3.9-2.02z" fill="#453581"/><path d="M265.03 245.38l3.95 1.35 2.21-3.07-3.94-1.35z" fill="#463480"/><path d="M238.67 245.81l3.92 1.83 2.26-2.78-3.92-1.82z" fill="#472f7d"/><path d="M218.49 242.8l3.9 2.21 2.29-2.58-3.9-2.2z" fill="#423f85"/><path d="M281.3 242.91l3.97 1.07 2.19-3.26-3.96-1.06z" fill="#414487"/><path d="M248.77 246.59l3.93 1.65 2.24-2.88-3.93-1.64z" fill="#472d7b"/><path d="M194.37 235.19l3.89 2.68 2.34-2.36-3.89-2.67z" fill="#32648e"/><path d="M180.34 228.85l3.89 2.96 2.36-2.24-3.88-2.95z" fill="#27808e"/><path d="M208.38 240.57l3.9 2.4 2.31-2.47-3.9-2.39z" fill="#3e4c8a"/><path d="M316.11 230.57l4.02 .48 2.16-3.73-4.03-.47z" fill="#26828e"/><path d="M322.29 227.32l4.03 .37 2.15-3.83-4.04-.37z" fill="#21918c"/><path d="M309.94 233.64l4.01 .58 2.16-3.65-4.01-.56z" fill="#2b748e"/><path d="M258.87 246.9l3.94 1.46 2.22-2.98-3.94-1.45z" fill="#472e7c"/><path d="M275.14 244.92l3.96 1.17 2.2-3.18-3.95-1.16z" fill="#443a83"/><path d="M303.77 236.51l4 .68 2.17-3.55-4-.67z" fill="#31678e"/><path d="M166.29 221.55l3.89 3.25 2.39-2.13-3.88-3.24z" fill="#1fa188"/><path d="M297.6 239.2l4 .77 2.17-3.46-3.99-.76z" fill="#375b8d"/><path d="M232.49 246.56l3.92 1.93 2.26-2.68-3.91-1.92z" fill="#472f7d"/><path d="M198.26 237.87l3.9 2.58 2.33-2.36-3.89-2.58z" fill="#375b8d"/><path d="M184.23 231.81l3.9 2.87 2.35-2.26-3.89-2.85z" fill="#2b758e"/><path d="M222.39 245.01l3.91 2.12 2.28-2.59-3.9-2.11z" fill="#453882"/><path d="M242.59 247.64l3.93 1.74 2.25-2.79-3.92-1.73z" fill="#472a7a"/><path d="M291.44 241.68l3.98 .88 2.18-3.36-3.98-.87z" fill="#3c508b"/><path d="M268.98 246.73l3.95 1.27 2.21-3.08-3.95-1.26z" fill="#46337f"/><path d="M212.28 242.97l3.9 2.31 2.31-2.48-3.9-2.3z" fill="#414487"/><path d="M252.7 248.24l3.93 1.55 2.24-2.89-3.93-1.54z" fill="#482979"/><path d="M170.18 224.8l3.89 3.15 2.39-2.15-3.89-3.13z" fill="#1f958b"/><path d="M285.27 243.98l3.98 .98 2.19-3.28-3.98-.96z" fill="#404588"/><path d="M188.13 234.68l3.89 2.78 2.35-2.27-3.89-2.77z" fill="#2f6c8e"/><path d="M202.16 240.45l3.9 2.5 2.32-2.38-3.89-2.48z" fill="#3b518b"/><path d="M262.81 248.36l3.95 1.36 2.22-2.99-3.95-1.35z" fill="#472c7a"/><path d="M236.41 248.49l3.92 1.84 2.26-2.69-3.92-1.83z" fill="#482979"/><path d="M226.3 247.13l3.91 2.02 2.28-2.59-3.91-2.02z" fill="#46307e"/><path d="M174.07 227.95l3.9 3.05 2.37-2.15-3.88-3.05z" fill="#238a8d"/><path d="M279.1 246.09l3.98 1.07 2.19-3.18-3.97-1.07z" fill="#443b84"/><path d="M320.13 231.05l4.04 .38 2.15-3.74-4.03-.37z" fill="#24868e"/><path d="M313.95 234.22l4.03 .48 2.15-3.65-4.02-.48z" fill="#2a788e"/><path d="M246.52 249.38l3.93 1.65 2.25-2.79-3.93-1.65z" fill="#482677"/><path d="M326.32 227.69l4.05 .28 2.14-3.84-4.04-.27z" fill="#1f958b"/><path d="M216.18 245.28l3.91 2.22 2.3-2.49-3.9-2.21z" fill="#443b84"/><path d="M307.77 237.19l4.02 .59 2.16-3.56-4.01-.58z" fill="#2f6b8e"/><path d="M192.02 237.46l3.9 2.68 2.34-2.27-3.89-2.68z" fill="#33628d"/><path d="M301.6 239.97l4.01 .69 2.16-3.47-4-.68z" fill="#355e8d"/><path d="M272.93 248l3.97 1.18 2.2-3.09-3.96-1.17z" fill="#46327e"/><path d="M256.63 249.79l3.95 1.46 2.23-2.89-3.94-1.46z" fill="#482677"/><path d="M206.06 242.95l3.9 2.41 2.32-2.39-3.9-2.4z" fill="#3f4889"/><path d="M177.97 231l3.89 2.97 2.37-2.16-3.89-2.96z" fill="#277f8e"/><path d="M295.42 242.56l4 .79 2.18-3.38-4-.77z" fill="#3b528b"/><path d="M289.25 244.96l3.99 .88 2.18-3.28-3.98-.88z" fill="#404688"/><path d="M230.21 249.15l3.92 1.94 2.28-2.6-3.92-1.93z" fill="#472a7a"/><path d="M240.33 250.33l3.93 1.75 2.26-2.7-3.93-1.74z" fill="#482576"/><path d="M266.76 249.72l3.96 1.28 2.21-3-3.95-1.27z" fill="#472a7a"/><path d="M220.09 247.5l3.92 2.12 2.29-2.49-3.91-2.12z" fill="#463480"/><path d="M195.92 240.14l3.9 2.6 2.34-2.29-3.9-2.58z" fill="#38598c"/><path d="M163.88 223.59l3.9 3.25 2.4-2.04-3.89-3.25z" fill="#1fa188"/><path d="M181.86 233.97l3.9 2.88 2.37-2.17-3.9-2.87z" fill="#2b748e"/><path d="M250.45 251.03l3.94 1.56 2.24-2.8-3.93-1.55z" fill="#482374"/><path d="M283.08 247.16l3.98 .99 2.19-3.19-3.98-.98z" fill="#443b84"/><path d="M209.96 245.36l3.91 2.31 2.31-2.39-3.9-2.31z" fill="#424086"/><path d="M167.78 226.84l3.9 3.16 2.39-2.05-3.89-3.15z" fill="#1f948c"/><path d="M317.98 234.7l4.04 .4 2.15-3.67-4.04-.38z" fill="#287c8e"/><path d="M324.17 231.43l4.05 .3 2.15-3.76-4.05-.28z" fill="#228b8d"/><path d="M260.58 251.25l3.95 1.38 2.23-2.91-3.95-1.36z" fill="#482576"/><path d="M311.79 237.78l4.03 .49 2.16-3.57-4.03-.48z" fill="#2e6f8e"/><path d="M276.9 249.18l3.98 1.08 2.2-3.1-3.98-1.07z" fill="#46337f"/><path d="M330.37 227.97l4.06 .19 2.14-3.85-4.06-.18z" fill="#1f9a8a"/><path d="M185.76 236.85l3.9 2.78 2.36-2.17-3.89-2.78z" fill="#2f6b8e"/><path d="M199.82 242.74l3.91 2.5 2.33-2.29-3.9-2.5z" fill="#3c4f8a"/><path d="M305.61 240.66l4.02 .59 2.16-3.47-4.02-.59z" fill="#34618d"/><path d="M234.13 251.09l3.93 1.85 2.27-2.61-3.92-1.84z" fill="#482576"/><path d="M224.01 249.62l3.92 2.04 2.28-2.51-3.91-2.02z" fill="#472d7b"/><path d="M299.42 243.35l4.01 .69 2.18-3.38-4.01-.69z" fill="#3a548c"/><path d="M244.26 252.08l3.94 1.66 2.25-2.71-3.93-1.65z" fill="#482071"/><path d="M171.68 230l3.9 3.07 2.39-2.07-3.9-3.05z" fill="#23898e"/><path d="M213.87 247.67l3.92 2.23 2.3-2.4-3.91-2.22z" fill="#453882"/><path d="M270.72 251l3.97 1.18 2.21-3-3.97-1.18z" fill="#472a7a"/><path d="M293.24 245.84l4 .8 2.18-3.29-4-.79z" fill="#3e4989"/><path d="M254.39 252.59l3.95 1.48 2.24-2.82-3.95-1.46z" fill="#482071"/><path d="M189.66 239.63l3.91 2.7 2.35-2.19-3.9-2.68z" fill="#34618d"/><path d="M203.73 245.24l3.91 2.42 2.32-2.3-3.9-2.41z" fill="#404688"/><path d="M287.06 248.15l3.99 .89 2.19-3.2-3.99-.88z" fill="#433e85"/><path d="M175.58 233.07l3.9 2.97 2.38-2.07-3.89-2.97z" fill="#277e8e"/><path d="M264.53 252.63l3.97 1.28 2.22-2.91-3.96-1.28z" fill="#482475"/><path d="M227.93 251.66l3.92 1.95 2.28-2.52-3.92-1.94z" fill="#482677"/><path d="M238.06 252.94l3.94 1.76 2.26-2.62-3.93-1.75z" fill="#482071"/><path d="M280.88 250.26l3.98 .99 2.2-3.1-3.98-.99z" fill="#46337f"/><path d="M217.79 249.9l3.92 2.14 2.3-2.42-3.92-2.12z" fill="#46307e"/><path d="M248.2 253.74l3.95 1.57 2.24-2.72-3.94-1.56z" fill="#481d6f"/><path d="M193.57 242.33l3.9 2.6 2.35-2.19-3.9-2.6z" fill="#38588c"/><path d="M322.02 235.1l4.05 .29 2.15-3.66-4.05-.3z" fill="#26818e"/><path d="M315.82 238.27l4.04 .4 2.16-3.57-4.04-.4z" fill="#2c728e"/><path d="M328.22 231.73l4.07 .19 2.14-3.76-4.06-.19z" fill="#21908d"/><path d="M161.46 225.54l3.91 3.26 2.41-1.96-3.9-3.25z" fill="#1fa188"/><path d="M179.48 236.04l3.91 2.89 2.37-2.08-3.9-2.88z" fill="#2c738e"/><path d="M309.63 241.25l4.03 .5 2.16-3.48-4.03-.49z" fill="#32658e"/><path d="M334.43 228.16l4.08 .1 2.14-3.86-4.08-.09z" fill="#1fa188"/><path d="M207.64 247.66l3.91 2.32 2.32-2.31-3.91-2.31z" fill="#433e85"/><path d="M303.43 244.04l4.03 .6 2.17-3.39-4.02-.59z" fill="#38598c"/><path d="M258.34 254.07l3.96 1.38 2.23-2.82-3.95-1.38z" fill="#481d6f"/><path d="M274.69 252.18l3.98 1.09 2.21-3.01-3.98-1.08z" fill="#472a7a"/><path d="M297.24 246.64l4.02 .7 2.17-3.3-4.01-.69z" fill="#3e4c8a"/><path d="M165.37 228.8l3.9 3.17 2.41-1.97-3.9-3.16z" fill="#1f948c"/><path d="M197.47 244.93l3.92 2.52 2.34-2.21-3.91-2.5z" fill="#3d4e8a"/><path d="M231.85 253.61l3.94 1.85 2.27-2.52-3.93-1.85z" fill="#482071"/><path d="M183.39 238.93l3.9 2.8 2.37-2.1-3.9-2.78z" fill="#306a8e"/><path d="M221.71 252.04l3.92 2.04 2.3-2.42-3.92-2.04z" fill="#482979"/><path d="M242 254.7l3.94 1.67 2.26-2.63-3.94-1.66z" fill="#481b6d"/><path d="M291.05 249.04l4.01 .8 2.18-3.2-4-.8z" fill="#424086"/><path d="M268.5 253.91l3.97 1.19 2.22-2.92-3.97-1.18z" fill="#482374"/><path d="M211.55 249.98l3.92 2.24 2.32-2.32-3.92-2.23z" fill="#453581"/><path d="M252.15 255.31l3.95 1.48 2.24-2.72-3.95-1.48z" fill="#481a6c"/><path d="M169.27 231.97l3.91 3.07 2.4-1.97-3.9-3.07z" fill="#23898e"/><path d="M284.86 251.25l4 .9 2.19-3.11-3.99-.89z" fill="#453581"/><path d="M187.29 241.73l3.91 2.7 2.37-2.1-3.91-2.7z" fill="#34608d"/><path d="M201.39 247.45l3.91 2.42 2.34-2.21-3.91-2.42z" fill="#404588"/><path d="M262.3 255.45l3.97 1.29 2.23-2.83-3.97-1.28z" fill="#481d6f"/><path d="M319.86 238.67l4.06 .31 2.15-3.59-4.05-.29z" fill="#2a778e"/><path d="M326.07 235.39l4.07 .21 2.15-3.68-4.07-.19z" fill="#24868e"/><path d="M313.66 241.75l4.04 .41 2.16-3.49-4.04-.4z" fill="#306a8e"/><path d="M173.18 235.04l3.91 2.99 2.39-1.99-3.9-2.97z" fill="#277e8e"/><path d="M278.67 253.27l3.99 1 2.2-3.02-3.98-.99z" fill="#472c7a"/><path d="M332.29 231.92l4.08 .11 2.14-3.77-4.08-.1z" fill="#1f968b"/><path d="M235.79 255.46l3.94 1.77 2.27-2.53-3.94-1.76z" fill="#481b6d"/><path d="M225.63 254.08l3.93 1.96 2.29-2.43-3.92-1.95z" fill="#482374"/><path d="M307.46 244.64l4.03 .51 2.17-3.4-4.03-.5z" fill="#365c8d"/><path d="M338.51 228.26l4.09 0 2.14-3.87-4.09 .01z" fill="#22a785"/><path d="M245.94 256.37l3.95 1.58 2.26-2.64-3.95-1.57z" fill="#48186a"/><path d="M215.47 252.22l3.93 2.14 2.31-2.32-3.92-2.14z" fill="#472e7c"/><path d="M301.26 247.34l4.02 .61 2.18-3.31-4.03-.6z" fill="#3c4f8a"/><path d="M191.2 244.43l3.92 2.62 2.35-2.12-3.9-2.6z" fill="#39568c"/><path d="M272.47 255.1l3.99 1.1 2.21-2.93-3.98-1.09z" fill="#482475"/><path d="M295.06 249.84l4.01 .71 2.19-3.21-4.02-.7z" fill="#414487"/><path d="M256.1 256.79l3.96 1.39 2.24-2.73-3.96-1.38z" fill="#48186a"/><path d="M177.09 238.03l3.91 2.9 2.39-2-3.91-2.89z" fill="#2c738e"/><path d="M159.03 227.39l3.91 3.28 2.43-1.87-3.91-3.26z" fill="#1fa188"/><path d="M205.3 249.87l3.92 2.34 2.33-2.23-3.91-2.32z" fill="#433d84"/><path d="M288.86 252.15l4.01 .81 2.19-3.12-4.01-.8z" fill="#453882"/><path d="M229.56 256.04l3.94 1.86 2.29-2.44-3.94-1.85z" fill="#481d6f"/><path d="M162.94 230.67l3.92 3.18 2.41-1.88-3.9-3.17z" fill="#1f948c"/><path d="M266.27 256.74l3.98 1.19 2.22-2.83-3.97-1.19z" fill="#481c6e"/><path d="M239.73 257.23l3.94 1.68 2.27-2.54-3.94-1.67z" fill="#481769"/><path d="M195.12 247.05l3.91 2.52 2.36-2.12-3.92-2.52z" fill="#3d4d8a"/><path d="M219.4 254.36l3.93 2.06 2.3-2.34-3.92-2.04z" fill="#482677"/><path d="M181 240.93l3.91 2.8 2.38-2-3.9-2.8z" fill="#306a8e"/><path d="M282.66 254.27l4 .91 2.2-3.03-4-.9z" fill="#472e7c"/><path d="M249.89 257.95l3.96 1.48 2.25-2.64-3.95-1.48z" fill="#481668"/><path d="M209.22 252.21l3.93 2.24 2.32-2.23-3.92-2.24z" fill="#463480"/><path d="M323.92 238.98l4.07 .21 2.15-3.59-4.07-.21z" fill="#287d8e"/><path d="M317.7 242.16l4.06 .32 2.16-3.5-4.06-.31z" fill="#2e6f8e"/><path d="M330.14 235.6l4.08 .11 2.15-3.68-4.08-.11z" fill="#228c8d"/><path d="M311.49 245.15l4.05 .42 2.16-3.41-4.04-.41z" fill="#34618d"/><path d="M166.86 233.85l3.91 3.08 2.41-1.89-3.91-3.07z" fill="#23898e"/><path d="M336.37 232.03l4.09 .01 2.14-3.78-4.09 0z" fill="#1e9c89"/><path d="M260.06 258.18l3.98 1.3 2.23-2.74-3.97-1.29z" fill="#481769"/><path d="M305.28 247.95l4.04 .52 2.17-3.32-4.03-.51z" fill="#3a538b"/><path d="M276.46 256.2l3.99 1.01 2.21-2.94-3.99-1z" fill="#482475"/><path d="M184.91 243.73l3.92 2.72 2.37-2.02-3.91-2.7z" fill="#34608d"/><path d="M342.6 228.26l4.11-.1 2.14-3.87-4.11 .1z" fill="#27ad81"/><path d="M199.03 249.57l3.93 2.43 2.34-2.13-3.91-2.42z" fill="#414487"/><path d="M299.07 250.55l4.03 .62 2.18-3.22-4.02-.61z" fill="#3f4788"/><path d="M233.5 257.9l3.95 1.78 2.28-2.45-3.94-1.77z" fill="#48186a"/><path d="M223.33 256.42l3.93 1.96 2.3-2.34-3.93-1.96z" fill="#482071"/><path d="M170.77 236.93l3.91 3 2.41-1.9-3.91-2.99z" fill="#277f8e"/><path d="M243.67 258.91l3.96 1.58 2.26-2.54-3.95-1.58z" fill="#471365"/><path d="M292.87 252.96l4.02 .72 2.18-3.13-4.01-.71z" fill="#443b84"/><path d="M213.15 254.45l3.93 2.15 2.32-2.24-3.93-2.14z" fill="#472c7a"/><path d="M270.25 257.93l3.99 1.11 2.22-2.84-3.99-1.1z" fill="#481c6e"/><path d="M253.85 259.43l3.97 1.4 2.24-2.65-3.96-1.39z" fill="#471365"/><path d="M188.83 246.45l3.92 2.62 2.37-2.02-3.92-2.62z" fill="#39568c"/><path d="M286.66 255.18l4.01 .82 2.2-3.04-4.01-.81z" fill="#46307e"/><path d="M202.96 252l3.92 2.34 2.34-2.13-3.92-2.34z" fill="#443b84"/><path d="M174.68 239.93l3.92 2.91 2.4-1.91-3.91-2.9z" fill="#2b748e"/><path d="M156.59 229.17l3.92 3.28 2.43-1.78-3.91-3.28z" fill="#1fa187"/><path d="M264.04 259.48l3.98 1.2 2.23-2.75-3.98-1.19z" fill="#481769"/><path d="M227.26 258.38l3.95 1.88 2.29-2.36-3.94-1.86z" fill="#481b6d"/><path d="M321.76 242.48l4.07 .22 2.16-3.51-4.07-.21z" fill="#2c738e"/><path d="M237.45 259.68l3.95 1.68 2.27-2.45-3.94-1.68z" fill="#471365"/><path d="M327.99 239.19l4.08 .12 2.15-3.6-4.08-.11z" fill="#26828e"/><path d="M280.45 257.21l4 .92 2.21-2.95-4-.91z" fill="#482677"/><path d="M315.54 245.57l4.06 .32 2.16-3.41-4.06-.32z" fill="#31668e"/><path d="M334.22 235.71l4.1 .02 2.14-3.69-4.09-.01z" fill="#20928c"/><path d="M217.08 256.6l3.93 2.07 2.32-2.25-3.93-2.06z" fill="#482576"/><path d="M309.32 248.47l4.05 .42 2.17-3.32-4.05-.42z" fill="#38598c"/><path d="M192.75 249.07l3.92 2.53 2.36-2.03-3.91-2.52z" fill="#3d4d8a"/><path d="M247.63 260.49l3.96 1.5 2.26-2.56-3.96-1.48z" fill="#471063"/><path d="M160.51 232.45l3.92 3.19 2.43-1.79-3.92-3.18z" fill="#1f968b"/><path d="M340.46 232.04l4.11-.09 2.14-3.79-4.11 .1z" fill="#20a386"/><path d="M178.6 242.84l3.92 2.81 2.39-1.92-3.91-2.8z" fill="#306a8e"/><path d="M303.1 251.17l4.04 .53 2.18-3.23-4.04-.52z" fill="#3e4c8a"/><path d="M206.88 254.34l3.93 2.26 2.34-2.15-3.93-2.24z" fill="#46337f"/><path d="M346.71 228.16l4.13-.19 2.13-3.88-4.12 .2z" fill="#31b57b"/><path d="M274.24 259.04l3.99 1.02 2.22-2.85-3.99-1.01z" fill="#481d6f"/><path d="M257.82 260.83l3.98 1.31 2.24-2.66-3.98-1.3z" fill="#471164"/><path d="M296.89 253.68l4.03 .63 2.18-3.14-4.03-.62z" fill="#423f85"/><path d="M164.43 235.64l3.92 3.09 2.42-1.8-3.91-3.08z" fill="#238a8d"/><path d="M182.52 245.65l3.92 2.72 2.39-1.92-3.92-2.72z" fill="#34608d"/><path d="M196.67 251.6l3.93 2.44 2.36-2.04-3.93-2.43z" fill="#414487"/><path d="M290.67 256l4.02 .73 2.2-3.05-4.02-.72z" fill="#46337f"/><path d="M231.21 260.26l3.95 1.78 2.29-2.36-3.95-1.78z" fill="#481668"/><path d="M221.01 258.67l3.95 1.97 2.3-2.26-3.93-1.96z" fill="#481f70"/><path d="M241.4 261.36l3.96 1.6 2.27-2.47-3.96-1.58z" fill="#471063"/><path d="M268.02 260.68l3.99 1.12 2.23-2.76-3.99-1.11z" fill="#481769"/><path d="M168.35 238.73l3.92 3.01 2.41-1.81-3.91-3z" fill="#27808e"/><path d="M210.81 256.6l3.94 2.16 2.33-2.16-3.93-2.15z" fill="#472c7a"/><path d="M251.59 261.99l3.98 1.4 2.25-2.56-3.97-1.4z" fill="#470e61"/><path d="M284.45 258.13l4.02 .82 2.2-2.95-4.01-.82z" fill="#482979"/><path d="M325.83 242.7l4.09 .13 2.15-3.52-4.08-.12z" fill="#29798e"/><path d="M319.6 245.89l4.08 .23 2.15-3.42-4.07-.22z" fill="#2f6b8e"/><path d="M186.44 248.37l3.93 2.64 2.38-1.94-3.92-2.62z" fill="#39568c"/><path d="M332.07 239.31l4.1 .03 2.15-3.61-4.1-.02z" fill="#23898e"/><path d="M313.37 248.89l4.07 .33 2.16-3.33-4.06-.32z" fill="#355e8d"/><path d="M200.6 254.04l3.93 2.36 2.35-2.06-3.92-2.34z" fill="#443b84"/><path d="M338.32 235.73l4.11-.08 2.14-3.7-4.11 .09z" fill="#1f998a"/><path d="M261.8 262.14l3.98 1.21 2.24-2.67-3.98-1.2z" fill="#471164"/><path d="M307.14 251.7l4.06 .43 2.17-3.24-4.05-.42z" fill="#3c508b"/><path d="M172.27 241.74l3.92 2.92 2.41-1.82-3.92-2.91z" fill="#2b758e"/><path d="M278.23 260.06l4.01 .92 2.21-2.85-4-.92z" fill="#482071"/><path d="M344.57 231.95l4.13-.18 2.14-3.8-4.13 .19z" fill="#25ab82"/><path d="M154.13 230.85l3.93 3.29 2.45-1.69-3.92-3.28z" fill="#20a386"/><path d="M235.16 262.04l3.96 1.69 2.28-2.37-3.95-1.68z" fill="#471063"/><path d="M224.96 260.64l3.94 1.88 2.31-2.26-3.95-1.88z" fill="#48186a"/><path d="M300.92 254.31l4.04 .53 2.18-3.14-4.04-.53z" fill="#414487"/><path d="M245.36 262.96l3.97 1.5 2.26-2.47-3.96-1.5z" fill="#460b5e"/><path d="M214.75 258.76l3.94 2.07 2.32-2.16-3.93-2.07z" fill="#482475"/><path d="M350.84 227.97l4.14-.28 2.13-3.89-4.14 .29z" fill="#3fbc73"/><path d="M190.37 251.01l3.93 2.54 2.37-1.95-3.92-2.53z" fill="#3d4d8a"/><path d="M294.69 256.73l4.04 .63 2.19-3.05-4.03-.63z" fill="#453781"/><path d="M272.01 261.8l4 1.03 2.22-2.77-3.99-1.02z" fill="#48186a"/><path d="M158.06 234.14l3.92 3.2 2.45-1.7-3.92-3.19z" fill="#1f978b"/><path d="M176.19 244.66l3.93 2.82 2.4-1.83-3.92-2.81z" fill="#2f6b8e"/><path d="M255.57 263.39l3.98 1.32 2.25-2.57-3.98-1.31z" fill="#470d60"/><path d="M204.53 256.4l3.94 2.26 2.34-2.06-3.93-2.26z" fill="#46337f"/><path d="M288.47 258.95l4.03 .74 2.19-2.96-4.02-.73z" fill="#472c7a"/><path d="M161.98 237.34l3.93 3.11 2.44-1.72-3.92-3.09z" fill="#228c8d"/><path d="M228.9 262.52l3.96 1.79 2.3-2.27-3.95-1.78z" fill="#471365"/><path d="M265.78 263.35l4 1.12 2.23-2.67-3.99-1.12z" fill="#471164"/><path d="M239.12 263.73l3.96 1.6 2.28-2.37-3.96-1.6z" fill="#470d60"/><path d="M194.3 253.55l3.93 2.45 2.37-1.96-3.93-2.44z" fill="#414487"/><path d="M180.12 247.48l3.93 2.73 2.39-1.84-3.92-2.72z" fill="#34618d"/><path d="M218.69 260.83l3.95 1.98 2.32-2.17-3.95-1.97z" fill="#481d6f"/><path d="M323.68 246.12l4.09 .14 2.15-3.43-4.09-.13z" fill="#2c718e"/><path d="M282.24 260.98l4.02 .84 2.21-2.87-4.02-.82z" fill="#482374"/><path d="M329.92 242.83l4.11 .03 2.14-3.52-4.1-.03z" fill="#27808e"/><path d="M317.44 249.22l4.08 .24 2.16-3.34-4.08-.23z" fill="#33638d"/><path d="M336.17 239.34l4.12-.07 2.14-3.62-4.11 .08z" fill="#21908d"/><path d="M249.33 264.46l3.98 1.41 2.26-2.48-3.98-1.4z" fill="#460a5d"/><path d="M311.2 252.13l4.07 .34 2.17-3.25-4.07-.33z" fill="#39558c"/><path d="M208.47 258.66l3.94 2.17 2.34-2.07-3.94-2.16z" fill="#472a7a"/><path d="M342.43 235.65l4.13-.17 2.14-3.71-4.13 .18z" fill="#1fa188"/><path d="M165.91 240.45l3.93 3.02 2.43-1.73-3.92-3.01z" fill="#26818e"/><path d="M304.96 254.84l4.06 .44 2.18-3.15-4.06-.43z" fill="#3f4889"/><path d="M348.7 231.77l4.14-.28 2.14-3.8-4.14 .28z" fill="#2db27d"/><path d="M259.55 264.71l3.99 1.22 2.24-2.58-3.98-1.21z" fill="#460b5e"/><path d="M276.01 262.83l4.02 .93 2.21-2.78-4.01-.92z" fill="#481a6c"/><path d="M184.05 250.21l3.93 2.65 2.39-1.85-3.93-2.64z" fill="#38588c"/><path d="M298.73 257.36l4.05 .54 2.18-3.06-4.04-.53z" fill="#443b84"/><path d="M198.23 256l3.94 2.36 2.36-1.96-3.93-2.36z" fill="#443b84"/><path d="M354.98 227.69l4.16-.38 2.13-3.9-4.16 .39z" fill="#50c46a"/><path d="M232.86 264.31l3.96 1.71 2.3-2.29-3.96-1.69z" fill="#470e61"/><path d="M169.84 243.47l3.93 2.92 2.42-1.73-3.92-2.92z" fill="#2a768e"/><path d="M222.64 262.81l3.95 1.89 2.31-2.18-3.94-1.88z" fill="#481769"/><path d="M243.08 265.33l3.97 1.52 2.28-2.39-3.97-1.5z" fill="#46085c"/><path d="M292.5 259.69l4.04 .64 2.19-2.97-4.04-.63z" fill="#46307e"/><path d="M151.66 232.44l3.94 3.31 2.46-1.61-3.93-3.29z" fill="#21a585"/><path d="M269.78 264.47l4 1.04 2.23-2.68-4-1.03z" fill="#471365"/><path d="M212.41 260.83l3.95 2.08 2.33-2.08-3.94-2.07z" fill="#482475"/><path d="M253.31 265.87l3.98 1.32 2.26-2.48-3.98-1.32z" fill="#46085c"/><path d="M187.98 252.86l3.94 2.55 2.38-1.86-3.93-2.54z" fill="#3d4e8a"/><path d="M286.26 261.82l4.03 .74 2.21-2.87-4.03-.74z" fill="#482576"/><path d="M173.77 246.39l3.93 2.83 2.42-1.74-3.93-2.82z" fill="#2e6d8e"/><path d="M155.6 235.75l3.93 3.21 2.45-1.62-3.92-3.2z" fill="#1f998a"/><path d="M202.17 258.36l3.94 2.27 2.36-1.97-3.94-2.26z" fill="#46337f"/><path d="M327.77 246.26l4.1 .04 2.16-3.44-4.11-.03z" fill="#2a778e"/><path d="M321.52 249.46l4.09 .15 2.16-3.35-4.09-.14z" fill="#30698e"/><path d="M334.03 242.86l4.11-.06 2.15-3.53-4.12 .07z" fill="#24878e"/><path d="M315.27 252.47l4.08 .25 2.17-3.26-4.08-.24z" fill="#375b8d"/><path d="M263.54 265.93l4 1.13 2.24-2.59-4-1.12z" fill="#460b5e"/><path d="M340.29 239.27l4.13-.16 2.14-3.63-4.13 .17z" fill="#1f978b"/><path d="M280.03 263.76l4.02 .84 2.21-2.78-4.02-.84z" fill="#481c6e"/><path d="M226.59 264.7l3.96 1.8 2.31-2.19-3.96-1.79z" fill="#471164"/><path d="M309.02 255.28l4.07 .35 2.18-3.16-4.07-.34z" fill="#3d4e8a"/><path d="M236.82 266.02l3.97 1.61 2.29-2.3-3.96-1.6z" fill="#460a5d"/><path d="M346.56 235.48l4.15-.27 2.13-3.72-4.14 .28z" fill="#23a983"/><path d="M159.53 238.96l3.93 3.11 2.45-1.62-3.93-3.11z" fill="#218e8d"/><path d="M216.36 262.91l3.95 1.99 2.33-2.09-3.95-1.98z" fill="#481c6e"/><path d="M191.92 255.41l3.94 2.46 2.37-1.87-3.93-2.45z" fill="#404588"/><path d="M247.05 266.85l3.99 1.42 2.27-2.4-3.98-1.41z" fill="#46075a"/><path d="M302.78 257.9l4.06 .45 2.18-3.07-4.06-.44z" fill="#424086"/><path d="M177.7 249.22l3.94 2.75 2.41-1.76-3.93-2.73z" fill="#33638d"/><path d="M352.84 231.49l4.16-.37 2.14-3.81-4.16 .38z" fill="#3aba76"/><path d="M206.11 260.63l3.95 2.18 2.35-1.98-3.94-2.17z" fill="#472c7a"/><path d="M273.78 265.51l4.02 .94 2.23-2.69-4.02-.93z" fill="#481467"/><path d="M296.54 260.33l4.05 .55 2.19-2.98-4.05-.54z" fill="#463480"/><path d="M257.29 267.19l4 1.24 2.25-2.5-3.99-1.22z" fill="#46075a"/><path d="M163.46 242.07l3.94 3.03 2.44-1.63-3.93-3.02z" fill="#25838e"/><path d="M290.29 262.56l4.05 .65 2.2-2.88-4.04-.64z" fill="#482979"/><path d="M181.64 251.97l3.94 2.65 2.4-1.76-3.93-2.65z" fill="#375a8c"/><path d="M195.86 257.87l3.94 2.37 2.37-1.88-3.94-2.36z" fill="#433d84"/><path d="M230.55 266.5l3.97 1.71 2.3-2.19-3.96-1.71z" fill="#470d60"/><path d="M220.31 264.9l3.96 1.9 2.32-2.1-3.95-1.89z" fill="#481769"/><path d="M240.79 267.63l3.98 1.52 2.28-2.3-3.97-1.52z" fill="#46075a"/><path d="M267.54 267.06l4.01 1.04 2.23-2.59-4-1.04z" fill="#470d60"/><path d="M167.4 245.1l3.94 2.94 2.43-1.65-3.93-2.92z" fill="#29798e"/><path d="M284.05 264.6l4.03 .75 2.21-2.79-4.03-.74z" fill="#481f70"/><path d="M210.06 262.81l3.96 2.09 2.34-1.99-3.95-2.08z" fill="#482475"/><path d="M325.61 249.61l4.11 .05 2.15-3.36-4.1-.04z" fill="#2d708e"/><path d="M251.04 268.27l3.99 1.33 2.26-2.41-3.98-1.32z" fill="#450559"/><path d="M331.87 246.3l4.12-.05 2.15-3.45-4.11 .06z" fill="#277f8e"/><path d="M319.35 252.72l4.1 .15 2.16-3.26-4.09-.15z" fill="#33628d"/><path d="M149.18 233.95l3.94 3.31 2.48-1.51-3.94-3.31z" fill="#22a884"/><path d="M338.14 242.8l4.14-.15 2.14-3.54-4.13 .16z" fill="#218e8d"/><path d="M313.09 255.63l4.09 .25 2.17-3.16-4.08-.25z" fill="#3a538b"/><path d="M344.42 239.11l4.15-.26 2.14-3.64-4.15 .27z" fill="#1f9f88"/><path d="M185.58 254.62l3.94 2.56 2.4-1.77-3.94-2.55z" fill="#3c508b"/><path d="M306.84 258.35l4.08 .36 2.17-3.08-4.07-.35z" fill="#404688"/><path d="M199.8 260.24l3.95 2.28 2.36-1.89-3.94-2.27z" fill="#463480"/><path d="M261.29 268.43l4 1.14 2.25-2.51-4-1.13z" fill="#46085c"/><path d="M350.71 235.21l4.16-.36 2.13-3.73-4.16 .37z" fill="#2cb17e"/><path d="M277.8 266.45l4.03 .85 2.22-2.7-4.02-.84z" fill="#481769"/><path d="M171.34 248.04l3.94 2.84 2.42-1.66-3.93-2.83z" fill="#2e6f8e"/><path d="M153.12 237.26l3.94 3.22 2.47-1.52-3.93-3.21z" fill="#1e9c89"/><path d="M300.59 260.88l4.06 .45 2.19-2.98-4.06-.45z" fill="#443a83"/><path d="M234.52 268.21l3.98 1.62 2.29-2.2-3.97-1.61z" fill="#46085c"/><path d="M224.27 266.8l3.97 1.81 2.31-2.11-3.96-1.8z" fill="#471164"/><path d="M244.77 269.15l3.99 1.42 2.28-2.3-3.99-1.42z" fill="#450457"/><path d="M214.02 264.9l3.96 2 2.33-2-3.95-1.99z" fill="#481d6f"/><path d="M294.34 263.21l4.05 .56 2.2-2.89-4.05-.55z" fill="#472e7c"/><path d="M189.52 257.18l3.95 2.47 2.39-1.78-3.94-2.46z" fill="#3f4788"/><path d="M157.06 240.48l3.94 3.13 2.46-1.54-3.93-3.11z" fill="#21918c"/><path d="M271.55 268.1l4.02 .95 2.23-2.6-4.02-.94z" fill="#471063"/><path d="M175.28 250.88l3.94 2.75 2.42-1.66-3.94-2.75z" fill="#32658e"/><path d="M255.03 269.6l4 1.24 2.26-2.41-4-1.24z" fill="#450457"/><path d="M203.75 262.52l3.95 2.19 2.36-1.9-3.95-2.18z" fill="#472d7b"/><path d="M288.08 265.35l4.05 .66 2.21-2.8-4.05-.65z" fill="#482475"/><path d="M161 243.61l3.95 3.04 2.45-1.55-3.94-3.03z" fill="#25858e"/><path d="M329.72 249.66l4.12-.05 2.15-3.36-4.12 .05z" fill="#2a768e"/><path d="M323.45 252.87l4.11 .06 2.16-3.27-4.11-.05z" fill="#31688e"/><path d="M335.99 246.25l4.14-.15 2.15-3.45-4.14 .15z" fill="#24868e"/><path d="M265.29 269.57l4.02 1.04 2.24-2.51-4.01-1.04z" fill="#46085c"/><path d="M228.24 268.61l3.97 1.71 2.31-2.11-3.97-1.71z" fill="#460b5e"/><path d="M317.18 255.88l4.1 .16 2.17-3.17-4.1-.15z" fill="#375b8d"/><path d="M238.5 269.83l3.98 1.53 2.29-2.21-3.98-1.52z" fill="#450559"/><path d="M179.22 253.63l3.95 2.66 2.41-1.67-3.94-2.65z" fill="#365c8d"/><path d="M193.47 259.65l3.95 2.38 2.38-1.79-3.94-2.37z" fill="#433e85"/><path d="M342.28 242.65l4.15-.25 2.14-3.55-4.15 .26z" fill="#1f968b"/><path d="M281.83 267.3l4.04 .75 2.21-2.7-4.03-.75z" fill="#481a6c"/><path d="M217.98 266.9l3.96 1.91 2.33-2.01-3.96-1.9z" fill="#481769"/><path d="M310.92 258.71l4.08 .26 2.18-3.09-4.09-.25z" fill="#3d4d8a"/><path d="M348.57 238.85l4.16-.36 2.14-3.64-4.16 .36z" fill="#22a884"/><path d="M248.76 270.57l4 1.34 2.27-2.31-3.99-1.33z" fill="#440256"/><path d="M304.65 261.33l4.08 .37 2.19-2.99-4.08-.36z" fill="#424086"/><path d="M164.95 246.65l3.94 2.94 2.45-1.55-3.94-2.94z" fill="#297b8e"/><path d="M207.7 264.71l3.96 2.09 2.36-1.9-3.96-2.09z" fill="#482576"/><path d="M146.69 235.37l3.94 3.32 2.49-1.43-3.94-3.31z" fill="#25ac82"/><path d="M275.57 269.05l4.03 .86 2.23-2.61-4.03-.85z" fill="#471164"/><path d="M259.03 270.84l4.01 1.14 2.25-2.41-4-1.14z" fill="#450457"/><path d="M298.39 263.77l4.07 .46 2.19-2.9-4.06-.45z" fill="#46337f"/><path d="M183.17 256.29l3.95 2.57 2.4-1.68-3.94-2.56z" fill="#3b528b"/><path d="M197.42 262.03l3.95 2.29 2.38-1.8-3.95-2.28z" fill="#453581"/><path d="M168.89 249.59l3.95 2.86 2.44-1.57-3.94-2.84z" fill="#2c718e"/><path d="M232.21 270.32l3.98 1.63 2.31-2.12-3.98-1.62z" fill="#46085c"/><path d="M292.13 266.01l4.06 .56 2.2-2.8-4.05-.56z" fill="#482878"/><path d="M150.63 238.69l3.95 3.23 2.48-1.44-3.94-3.22z" fill="#1fa088"/><path d="M221.94 268.81l3.97 1.81 2.33-2.01-3.97-1.81z" fill="#471164"/><path d="M242.48 271.36l3.99 1.44 2.29-2.23-3.99-1.42z" fill="#440256"/><path d="M269.31 270.61l4.02 .96 2.24-2.52-4.02-.95z" fill="#460b5e"/><path d="M211.66 266.8l3.97 2.01 2.35-1.91-3.96-2z" fill="#481f70"/><path d="M252.76 271.91l4 1.25 2.27-2.32-4-1.24z" fill="#440256"/><path d="M285.87 268.05l4.05 .67 2.21-2.71-4.05-.66z" fill="#481f70"/><path d="M187.12 258.86l3.95 2.48 2.4-1.69-3.95-2.47z" fill="#3e4989"/><path d="M327.56 252.93l4.12-.04 2.16-3.28-4.12 .05z" fill="#2d708e"/><path d="M333.84 249.61l4.14-.14 2.15-3.37-4.14 .15z" fill="#277e8e"/><path d="M154.58 241.92l3.95 3.14 2.47-1.45-3.94-3.13z" fill="#1f948c"/><path d="M321.28 256.04l4.11 .07 2.17-3.18-4.11-.06z" fill="#34618d"/><path d="M172.84 252.45l3.95 2.76 2.43-1.58-3.94-2.75z" fill="#31688e"/><path d="M340.13 246.1l4.15-.24 2.15-3.46-4.15 .25z" fill="#218e8d"/><path d="M201.37 264.32l3.96 2.19 2.37-1.8-3.95-2.19z" fill="#472e7c"/><path d="M315 258.97l4.11 .17 2.17-3.1-4.1-.16z" fill="#3a538b"/><path d="M346.43 242.4l4.17-.35 2.13-3.56-4.16 .36z" fill="#1f9f88"/><path d="M308.73 261.7l4.1 .27 2.17-3-4.08-.26z" fill="#404688"/><path d="M263.04 271.98l4.02 1.06 2.25-2.43-4.02-1.04z" fill="#450559"/><path d="M279.6 269.91l4.05 .76 2.22-2.62-4.04-.75z" fill="#481668"/><path d="M225.91 270.62l3.98 1.73 2.32-2.03-3.97-1.71z" fill="#470d60"/><path d="M158.53 245.06l3.95 3.05 2.47-1.46-3.95-3.04z" fill="#23898e"/><path d="M236.19 271.95l3.99 1.54 2.3-2.13-3.98-1.53z" fill="#450457"/><path d="M302.46 264.23l4.08 .37 2.19-2.9-4.08-.37z" fill="#443983"/><path d="M215.63 268.81l3.97 1.92 2.34-1.92-3.96-1.91z" fill="#48186a"/><path d="M191.07 261.34l3.96 2.39 2.39-1.7-3.95-2.38z" fill="#424086"/><path d="M176.79 255.21l3.95 2.67 2.43-1.59-3.95-2.66z" fill="#355f8d"/><path d="M246.47 272.8l4.01 1.34 2.28-2.23-4-1.34z" fill="#440154"/><path d="M296.19 266.57l4.08 .47 2.19-2.81-4.07-.46z" fill="#472e7c"/><path d="M273.33 271.57l4.04 .86 2.23-2.52-4.03-.86z" fill="#470e61"/><path d="M205.33 266.51l3.97 2.11 2.36-1.82-3.96-2.09z" fill="#482677"/><path d="M256.76 273.16l4.02 1.15 2.26-2.33-4.01-1.14z" fill="#440256"/><path d="M162.48 248.11l3.95 2.95 2.46-1.47-3.94-2.94z" fill="#277f8e"/><path d="M289.92 268.72l4.07 .57 2.2-2.72-4.06-.56z" fill="#482374"/><path d="M144.18 236.69l3.95 3.34 2.5-1.34-3.94-3.32z" fill="#29af7f"/><path d="M180.74 257.88l3.96 2.58 2.42-1.6-3.95-2.57z" fill="#39558c"/><path d="M195.03 263.73l3.96 2.3 2.38-1.71-3.95-2.29z" fill="#443983"/><path d="M229.89 272.35l3.99 1.63 2.31-2.03-3.98-1.63z" fill="#46085c"/><path d="M331.68 252.89l4.15-.13 2.15-3.29-4.14 .14z" fill="#2a768e"/><path d="M267.06 273.04l4.03 .96 2.24-2.43-4.02-.96z" fill="#46075a"/><path d="M325.39 256.11l4.13-.03 2.16-3.19-4.12 .04z" fill="#31688e"/><path d="M219.6 270.73l3.98 1.82 2.33-1.93-3.97-1.81z" fill="#471365"/><path d="M240.18 273.49l4 1.44 2.29-2.13-3.99-1.44z" fill="#440256"/><path d="M337.98 249.47l4.16-.23 2.14-3.38-4.15 .24z" fill="#24868e"/><path d="M166.43 251.06l3.96 2.86 2.45-1.47-3.95-2.86z" fill="#2b748e"/><path d="M319.11 259.14l4.12 .07 2.16-3.1-4.11-.07z" fill="#375b8d"/><path d="M344.28 245.86l4.17-.34 2.15-3.47-4.17 .35z" fill="#1f968b"/><path d="M283.65 270.67l4.05 .68 2.22-2.63-4.05-.67z" fill="#481a6c"/><path d="M148.13 240.03l3.96 3.24 2.49-1.35-3.95-3.23z" fill="#20a386"/><path d="M312.83 261.97l4.1 .17 2.18-3-4.11-.17z" fill="#3d4d8a"/><path d="M209.3 268.62l3.97 2.02 2.36-1.83-3.97-2.01z" fill="#482071"/><path d="M250.48 274.14l4.01 1.26 2.27-2.24-4-1.25z" fill="#440154"/><path d="M306.54 264.6l4.1 .28 2.19-2.91-4.1-.27z" fill="#424086"/><path d="M184.7 260.46l3.96 2.49 2.41-1.61-3.95-2.48z" fill="#3d4d8a"/><path d="M152.09 243.27l3.95 3.15 2.49-1.36-3.95-3.14z" fill="#1f988b"/><path d="M277.37 272.43l4.05 .78 2.23-2.54-4.05-.76z" fill="#471164"/><path d="M198.99 266.03l3.96 2.2 2.38-1.72-3.96-2.19z" fill="#46307e"/><path d="M260.78 274.31l4.02 1.07 2.26-2.34-4.02-1.06z" fill="#440256"/><path d="M170.39 253.92l3.95 2.78 2.45-1.49-3.95-2.76z" fill="#2f6b8e"/><path d="M300.27 267.04l4.08 .38 2.19-2.82-4.08-.37z" fill="#46337f"/><path d="M233.88 273.98l4 1.55 2.3-2.04-3.99-1.54z" fill="#450559"/><path d="M223.58 272.55l3.98 1.74 2.33-1.94-3.98-1.73z" fill="#470d60"/><path d="M293.99 269.29l4.07 .48 2.21-2.73-4.08-.47z" fill="#482878"/><path d="M244.18 274.93l4.01 1.35 2.29-2.14-4.01-1.34z" fill="#440154"/><path d="M213.27 270.64l3.98 1.92 2.35-1.83-3.97-1.92z" fill="#481a6c"/><path d="M156.04 246.42l3.96 3.05 2.48-1.36-3.95-3.05z" fill="#228d8d"/><path d="M188.66 262.95l3.96 2.39 2.41-1.61-3.96-2.39z" fill="#414487"/><path d="M271.09 274l4.04 .87 2.24-2.44-4.04-.86z" fill="#460a5d"/><path d="M174.34 256.7l3.96 2.68 2.44-1.5-3.95-2.67z" fill="#33628d"/><path d="M254.49 275.4l4.02 1.16 2.27-2.25-4.02-1.15z" fill="#440154"/><path d="M202.95 268.23l3.98 2.12 2.37-1.73-3.97-2.11z" fill="#482979"/><path d="M287.7 271.35l4.07 .57 2.22-2.63-4.07-.57z" fill="#481f70"/><path d="M329.52 256.08l4.15-.12 2.16-3.2-4.15 .13z" fill="#2d708e"/><path d="M335.83 252.76l4.16-.23 2.15-3.29-4.16 .23z" fill="#277f8e"/><path d="M323.23 259.21l4.13-.02 2.16-3.11-4.13 .03z" fill="#33628d"/><path d="M342.14 249.24l4.17-.33 2.14-3.39-4.17 .34z" fill="#218f8d"/><path d="M160 249.47l3.96 2.97 2.47-1.38-3.95-2.95z" fill="#26828e"/><path d="M316.93 262.14l4.12 .08 2.18-3.01-4.12-.07z" fill="#3a548c"/><path d="M264.8 275.38l4.04 .97 2.25-2.35-4.03-.96z" fill="#450559"/><path d="M310.64 264.88l4.11 .18 2.18-2.92-4.1-.17z" fill="#3f4788"/><path d="M227.56 274.29l4 1.64 2.32-1.95-3.99-1.63z" fill="#460a5d"/><path d="M141.65 237.93l3.97 3.34 2.51-1.24-3.95-3.34z" fill="#2eb37c"/><path d="M178.3 259.38l3.97 2.59 2.43-1.51-3.96-2.58z" fill="#38598c"/><path d="M281.42 273.21l4.06 .68 2.22-2.54-4.05-.68z" fill="#481668"/><path d="M192.62 265.34l3.97 2.31 2.4-1.62-3.96-2.3z" fill="#443b84"/><path d="M237.88 275.53l4 1.45 2.3-2.05-4-1.44z" fill="#440256"/><path d="M217.25 272.56l3.98 1.83 2.35-1.84-3.98-1.82z" fill="#481467"/><path d="M304.35 267.42l4.1 .29 2.19-2.83-4.1-.28z" fill="#443a83"/><path d="M248.19 276.28l4.01 1.27 2.29-2.15-4.01-1.26z" fill="#440154"/><path d="M163.96 252.44l3.96 2.87 2.47-1.39-3.96-2.86z" fill="#2a788e"/><path d="M206.93 270.35l3.97 2.02 2.37-1.73-3.97-2.02z" fill="#482374"/><path d="M145.62 241.27l3.96 3.25 2.51-1.25-3.96-3.24z" fill="#22a785"/><path d="M298.06 269.77l4.09 .39 2.2-2.74-4.08-.38z" fill="#472e7c"/><path d="M275.13 274.87l4.05 .78 2.24-2.44-4.05-.78z" fill="#470e61"/><path d="M258.51 276.56l4.03 1.07 2.26-2.25-4.02-1.07z" fill="#440154"/><path d="M182.27 261.97l3.96 2.49 2.43-1.51-3.96-2.49z" fill="#3c508b"/><path d="M196.59 267.65l3.97 2.22 2.39-1.64-3.96-2.2z" fill="#463480"/><path d="M167.92 255.31l3.97 2.78 2.45-1.39-3.95-2.78z" fill="#2e6f8e"/><path d="M291.77 271.92l4.08 .49 2.21-2.64-4.07-.48z" fill="#482475"/><path d="M149.58 244.52l3.96 3.16 2.5-1.26-3.95-3.15z" fill="#1e9c89"/><path d="M231.56 275.93l4 1.55 2.32-1.95-4-1.55z" fill="#450559"/><path d="M221.23 274.39l4 1.75 2.33-1.85-3.98-1.74z" fill="#471063"/><path d="M241.88 276.98l4.01 1.36 2.3-2.06-4.01-1.35z" fill="#440154"/><path d="M268.84 276.35l4.04 .88 2.25-2.36-4.04-.87z" fill="#46085c"/><path d="M333.67 255.96l4.16-.22 2.16-3.21-4.16 .23z" fill="#2a788e"/><path d="M327.36 259.19l4.15-.12 2.16-3.11-4.15 .12z" fill="#306a8e"/><path d="M339.99 252.53l4.17-.32 2.15-3.3-4.17 .33z" fill="#24878e"/><path d="M210.9 272.37l3.99 1.94 2.36-1.75-3.98-1.92z" fill="#481c6e"/><path d="M321.05 262.22l4.14-.01 2.17-3.02-4.13 .02z" fill="#365c8d"/><path d="M285.48 273.89l4.07 .58 2.22-2.55-4.07-.57z" fill="#481b6d"/><path d="M252.2 277.55l4.03 1.17 2.28-2.16-4.02-1.16z" fill="#440154"/><path d="M153.54 247.68l3.97 3.07 2.49-1.28-3.96-3.05z" fill="#21918c"/><path d="M186.23 264.46l3.97 2.41 2.42-1.53-3.96-2.39z" fill="#3f4788"/><path d="M314.75 265.06l4.13 .09 2.17-2.93-4.12-.08z" fill="#3d4e8a"/><path d="M171.89 258.09l3.96 2.69 2.45-1.4-3.96-2.68z" fill="#31668e"/><path d="M200.56 269.87l3.98 2.12 2.39-1.64-3.98-2.12z" fill="#472d7b"/><path d="M308.45 267.71l4.12 .19 2.18-2.84-4.11-.18z" fill="#424186"/><path d="M262.54 277.63l4.04 .98 2.26-2.26-4.04-.97z" fill="#450457"/><path d="M279.18 275.65l4.07 .69 2.23-2.45-4.06-.68z" fill="#471365"/><path d="M157.51 250.75l3.97 2.98 2.48-1.29-3.96-2.97z" fill="#24868e"/><path d="M302.15 270.16l4.11 .29 2.19-2.74-4.1-.29z" fill="#453581"/><path d="M225.23 276.14l3.99 1.65 2.34-1.86-4-1.64z" fill="#460b5e"/><path d="M235.56 277.48l4.01 1.46 2.31-1.96-4-1.45z" fill="#450457"/><path d="M190.2 266.87l3.98 2.32 2.41-1.54-3.97-2.31z" fill="#423f85"/><path d="M175.85 260.78l3.97 2.6 2.45-1.41-3.97-2.59z" fill="#365d8d"/><path d="M214.89 274.31l3.99 1.84 2.35-1.76-3.98-1.83z" fill="#481769"/><path d="M245.89 278.34l4.02 1.27 2.29-2.06-4.01-1.27z" fill="#440154"/><path d="M139.12 239.07l3.97 3.36 2.53-1.16-3.97-3.34z" fill="#37b878"/><path d="M295.85 272.41l4.1 .39 2.2-2.64-4.09-.39z" fill="#472a7a"/><path d="M272.88 277.23l4.06 .79 2.24-2.37-4.05-.78z" fill="#460b5e"/><path d="M204.54 271.99l3.99 2.03 2.37-1.65-3.97-2.02z" fill="#482677"/><path d="M161.48 253.73l3.97 2.88 2.47-1.3-3.96-2.87z" fill="#287d8e"/><path d="M256.23 278.72l4.03 1.08 2.28-2.17-4.03-1.07z" fill="#440154"/><path d="M143.09 242.43l3.97 3.26 2.52-1.17-3.96-3.25z" fill="#26ad81"/><path d="M289.55 274.47l4.09 .5 2.21-2.56-4.08-.49z" fill="#482071"/><path d="M331.51 259.07l4.16-.21 2.16-3.12-4.16 .22z" fill="#2c718e"/><path d="M337.83 255.74l4.18-.32 2.15-3.21-4.17 .32z" fill="#26818e"/><path d="M325.19 262.21l4.15-.11 2.17-3.03-4.15 .12z" fill="#32648e"/><path d="M179.82 263.38l3.98 2.51 2.43-1.43-3.96-2.49z" fill="#3a548c"/><path d="M194.18 269.19l3.98 2.22 2.4-1.54-3.97-2.22z" fill="#453882"/><path d="M318.88 265.15l4.14-.01 2.17-2.93-4.14 .01z" fill="#39568c"/><path d="M229.22 277.79l4.01 1.56 2.33-1.87-4-1.55z" fill="#46085c"/><path d="M266.58 278.61l4.05 .89 2.25-2.27-4.04-.88z" fill="#46075a"/><path d="M165.45 256.61l3.97 2.79 2.47-1.31-3.97-2.78z" fill="#2c738e"/><path d="M239.57 278.94l4.01 1.37 2.31-1.97-4.01-1.36z" fill="#440256"/><path d="M218.88 276.15l4 1.75 2.35-1.76-4-1.75z" fill="#471365"/><path d="M147.06 245.69l3.97 3.17 2.51-1.18-3.96-3.16z" fill="#1fa188"/><path d="M312.57 267.9l4.12 .09 2.19-2.84-4.13-.09z" fill="#3e4989"/><path d="M283.25 276.34l4.08 .6 2.22-2.47-4.07-.58z" fill="#481769"/><path d="M249.91 279.61l4.03 1.18 2.29-2.07-4.03-1.17z" fill="#440154"/><path d="M208.53 274.02l3.99 1.94 2.37-1.65-3.99-1.94z" fill="#482071"/><path d="M306.26 270.45l4.11 .2 2.2-2.75-4.12-.19z" fill="#433d84"/><path d="M183.8 265.89l3.98 2.42 2.42-1.44-3.97-2.41z" fill="#3e4c8a"/><path d="M151.03 248.86l3.97 3.08 2.51-1.19-3.97-3.07z" fill="#1f968b"/><path d="M276.94 278.02l4.07 .69 2.24-2.37-4.07-.69z" fill="#471063"/><path d="M299.95 272.8l4.11 .3 2.2-2.65-4.11-.29z" fill="#46307e"/><path d="M169.42 259.4l3.97 2.7 2.46-1.32-3.96-2.69z" fill="#306a8e"/><path d="M260.26 279.8l4.05 .98 2.27-2.17-4.04-.98z" fill="#440256"/><path d="M198.16 271.41l3.98 2.13 2.4-1.55-3.98-2.12z" fill="#46307e"/><path d="M233.23 279.35l4.02 1.47 2.32-1.88-4.01-1.46z" fill="#450559"/><path d="M293.64 274.97l4.1 .4 2.21-2.57-4.1-.39z" fill="#482677"/><path d="M222.88 277.9l4 1.66 2.34-1.77-3.99-1.65z" fill="#470e61"/><path d="M155 251.94l3.98 2.99 2.5-1.2-3.97-2.98z" fill="#228b8d"/><path d="M243.58 280.31l4.03 1.28 2.3-1.98-4.02-1.27z" fill="#440154"/><path d="M212.52 275.96l3.99 1.85 2.37-1.66-3.99-1.84z" fill="#481b6d"/><path d="M270.63 279.5l4.06 .79 2.25-2.27-4.06-.79z" fill="#460a5d"/><path d="M187.78 268.31l3.98 2.32 2.42-1.44-3.98-2.32z" fill="#414487"/><path d="M173.39 262.1l3.98 2.61 2.45-1.33-3.97-2.6z" fill="#33628d"/><path d="M335.67 258.86l4.18-.31 2.16-3.13-4.18 .32z" fill="#297a8e"/><path d="M329.34 262.1l4.17-.2 2.16-3.04-4.16 .21z" fill="#2f6c8e"/><path d="M136.56 240.13l3.98 3.36 2.55-1.06-3.97-3.36z" fill="#3fbc73"/><path d="M253.94 280.79l4.04 1.09 2.28-2.08-4.03-1.08z" fill="#440154"/><path d="M323.02 265.14l4.15-.1 2.17-2.94-4.15 .11z" fill="#355e8d"/><path d="M287.33 276.94l4.09 .5 2.22-2.47-4.09-.5z" fill="#481d6f"/><path d="M202.14 273.54l4 2.04 2.39-1.56-3.99-2.03z" fill="#472a7a"/><path d="M316.69 267.99l4.15 0 2.18-2.85-4.14 .01z" fill="#3b518b"/><path d="M158.98 254.93l3.97 2.89 2.5-1.21-3.97-2.88z" fill="#26828e"/><path d="M310.37 270.65l4.14 .1 2.18-2.76-4.12-.09z" fill="#414487"/><path d="M140.54 243.49l3.98 3.28 2.54-1.08-3.97-3.26z" fill="#2cb17e"/><path d="M264.31 280.78l4.06 .9 2.26-2.18-4.05-.89z" fill="#450559"/><path d="M281.01 278.71l4.08 .6 2.24-2.37-4.08-.6z" fill="#481668"/><path d="M177.37 264.71l3.98 2.52 2.45-1.34-3.98-2.51z" fill="#38598c"/><path d="M226.88 279.56l4.01 1.57 2.34-1.78-4.01-1.56z" fill="#460b5e"/><path d="M191.76 270.63l3.98 2.23 2.42-1.45-3.98-2.22z" fill="#433d84"/><path d="M237.25 280.82l4.02 1.37 2.31-1.88-4.01-1.37z" fill="#450457"/><path d="M304.06 273.1l4.12 .21 2.19-2.66-4.11-.2z" fill="#453882"/><path d="M216.51 277.81l4.01 1.76 2.36-1.67-4-1.75z" fill="#481668"/><path d="M162.95 257.82l3.98 2.8 2.49-1.22-3.97-2.79z" fill="#2a788e"/><path d="M247.61 281.59l4.04 1.18 2.29-1.98-4.03-1.18z" fill="#440154"/><path d="M144.52 246.77l3.98 3.18 2.53-1.09-3.97-3.17z" fill="#21a685"/><path d="M206.14 275.58l3.99 1.95 2.39-1.57-3.99-1.94z" fill="#482475"/><path d="M297.74 275.37l4.11 .3 2.21-2.57-4.11-.3z" fill="#472d7b"/><path d="M274.69 280.29l4.08 .7 2.24-2.28-4.07-.69z" fill="#470e61"/><path d="M257.98 281.88l4.05 .99 2.28-2.09-4.05-.98z" fill="#440256"/><path d="M181.35 267.23l3.98 2.42 2.45-1.34-3.98-2.42z" fill="#3b518b"/><path d="M148.5 249.95l3.98 3.09 2.52-1.1-3.97-3.08z" fill="#1e9b8a"/><path d="M291.42 277.44l4.1 .4 2.22-2.47-4.1-.4z" fill="#482374"/><path d="M195.74 272.86l4 2.15 2.4-1.47-3.98-2.13z" fill="#453581"/><path d="M166.93 260.62l3.99 2.71 2.47-1.23-3.97-2.7z" fill="#2d708e"/><path d="M333.51 261.9l4.19-.3 2.15-3.05-4.18 .31z" fill="#2b748e"/><path d="M327.17 265.04l4.17-.19 2.17-2.95-4.17 .2z" fill="#31678e"/><path d="M230.89 281.13l4.02 1.47 2.34-1.78-4.02-1.47z" fill="#46085c"/><path d="M220.52 279.57l4.01 1.67 2.35-1.68-4-1.66z" fill="#471365"/><path d="M320.84 267.99l4.16-.09 2.17-2.86-4.15 .1z" fill="#375a8c"/><path d="M268.37 281.68l4.06 .8 2.26-2.19-4.06-.79z" fill="#46085c"/><path d="M241.27 282.19l4.03 1.29 2.31-1.89-4.03-1.28z" fill="#440256"/><path d="M285.09 279.31l4.1 .51 2.23-2.38-4.09-.5z" fill="#481b6d"/><path d="M210.13 277.53l4.01 1.86 2.37-1.58-3.99-1.85z" fill="#481f70"/><path d="M314.51 270.75l4.15 .01 2.18-2.77-4.15 0z" fill="#3d4d8a"/><path d="M152.48 253.04l3.99 2.99 2.51-1.1-3.98-2.99z" fill="#21918c"/><path d="M251.65 282.77l4.04 1.1 2.29-1.99-4.04-1.09z" fill="#440256"/><path d="M185.33 269.65l3.99 2.34 2.44-1.36-3.98-2.32z" fill="#3e4989"/><path d="M170.92 263.33l3.98 2.62 2.47-1.24-3.98-2.61z" fill="#31678e"/><path d="M308.18 273.31l4.13 .11 2.2-2.67-4.14-.1z" fill="#424086"/><path d="M199.74 275.01l3.99 2.05 2.41-1.48-4-2.04z" fill="#472f7d"/><path d="M134 241.09l3.98 3.38 2.56-.98-3.98-3.36z" fill="#4cc26c"/><path d="M278.77 280.99l4.08 .61 2.24-2.29-4.08-.6z" fill="#481467"/><path d="M262.03 282.87l4.07 .9 2.27-2.09-4.06-.9z" fill="#450559"/><path d="M301.85 275.67l4.13 .22 2.2-2.58-4.12-.21z" fill="#463480"/><path d="M156.47 256.03l3.98 2.91 2.5-1.12-3.97-2.89z" fill="#24878e"/><path d="M224.53 281.24l4.02 1.58 2.34-1.69-4.01-1.57z" fill="#470e61"/><path d="M234.91 282.6l4.03 1.39 2.33-1.8-4.02-1.37z" fill="#46075a"/><path d="M137.98 244.47l3.99 3.28 2.55-.98-3.98-3.28z" fill="#35b779"/><path d="M174.9 265.95l3.99 2.53 2.46-1.25-3.98-2.52z" fill="#355e8d"/><path d="M189.32 271.99l4 2.24 2.42-1.37-3.98-2.23z" fill="#424186"/><path d="M295.52 277.84l4.12 .32 2.21-2.49-4.11-.3z" fill="#472a7a"/><path d="M214.14 279.39l4.01 1.77 2.37-1.59-4.01-1.76z" fill="#481b6d"/><path d="M245.3 283.48l4.04 1.19 2.31-1.9-4.04-1.18z" fill="#440256"/><path d="M272.43 282.48l4.08 .71 2.26-2.2-4.08-.7z" fill="#470d60"/><path d="M160.45 258.94l3.99 2.81 2.49-1.13-3.98-2.8z" fill="#277e8e"/><path d="M203.73 277.06l4.01 1.95 2.39-1.48-3.99-1.95z" fill="#482979"/><path d="M255.69 283.87l4.06 1 2.28-2-4.05-.99z" fill="#450457"/><path d="M141.97 247.75l3.99 3.19 2.54-.99-3.98-3.18z" fill="#25ac82"/><path d="M331.34 264.85l4.19-.3 2.17-2.95-4.19 .3z" fill="#2d708e"/><path d="M289.19 279.82l4.11 .41 2.22-2.39-4.1-.4z" fill="#482173"/><path d="M325 267.9l4.17-.19 2.17-2.86-4.17 .19z" fill="#33628d"/><path d="M318.66 270.76l4.16-.09 2.18-2.77-4.16 .09z" fill="#3a548c"/><path d="M178.89 268.48l3.99 2.43 2.45-1.26-3.98-2.42z" fill="#39568c"/><path d="M193.32 274.23l4 2.15 2.42-1.37-4-2.15z" fill="#443a83"/><path d="M312.31 273.42l4.16 .02 2.19-2.68-4.15-.01z" fill="#3f4889"/><path d="M266.1 283.77l4.07 .81 2.26-2.1-4.06-.8z" fill="#46085c"/><path d="M145.96 250.94l3.99 3.1 2.53-1-3.98-3.09z" fill="#1fa187"/><path d="M164.44 261.75l3.99 2.72 2.49-1.14-3.99-2.71z" fill="#2b748e"/><path d="M228.55 282.82l4.02 1.48 2.34-1.7-4.02-1.47z" fill="#460b5e"/><path d="M282.85 281.6l4.1 .52 2.24-2.3-4.1-.51z" fill="#481a6c"/><path d="M238.94 283.99l4.04 1.29 2.32-1.8-4.03-1.29z" fill="#450559"/><path d="M218.15 281.16l4.01 1.68 2.37-1.6-4.01-1.67z" fill="#481769"/><path d="M305.98 275.89l4.14 .11 2.19-2.58-4.13-.11z" fill="#433d84"/><path d="M249.34 284.67l4.06 1.1 2.29-1.9-4.04-1.1z" fill="#450457"/><path d="M207.74 279.01l4.01 1.87 2.39-1.49-4.01-1.86z" fill="#482475"/><path d="M149.95 254.04l3.99 3.01 2.53-1.02-3.99-2.99z" fill="#1f978b"/><path d="M182.88 270.91l4 2.34 2.44-1.26-3.99-2.34z" fill="#3c4f8a"/><path d="M299.64 278.16l4.13 .22 2.21-2.49-4.13-.22z" fill="#46327e"/><path d="M276.51 283.19l4.1 .61 2.24-2.2-4.08-.61z" fill="#471365"/><path d="M168.43 264.47l3.99 2.63 2.48-1.15-3.98-2.62z" fill="#2f6c8e"/><path d="M259.75 284.87l4.07 .91 2.28-2.01-4.07-.9z" fill="#46075a"/><path d="M197.32 276.38l4 2.06 2.41-1.38-3.99-2.05z" fill="#463480"/><path d="M131.41 241.96l4 3.39 2.57-.88-3.98-3.38z" fill="#5ac864"/><path d="M293.3 280.23l4.12 .32 2.22-2.39-4.12-.32z" fill="#482878"/><path d="M232.57 284.3l4.04 1.39 2.33-1.7-4.03-1.39z" fill="#460a5d"/><path d="M153.94 257.05l3.99 2.91 2.52-1.02-3.98-2.91z" fill="#228d8d"/><path d="M222.16 282.84l4.03 1.58 2.36-1.6-4.02-1.58z" fill="#471365"/><path d="M329.17 267.71l4.2-.28 2.16-2.88-4.19 .3z" fill="#2f6b8e"/><path d="M242.98 285.28l4.05 1.2 2.31-1.81-4.04-1.19z" fill="#450559"/><path d="M270.17 284.58l4.08 .72 2.26-2.11-4.08-.71z" fill="#470d60"/><path d="M211.75 280.88l4.02 1.78 2.38-1.5-4.01-1.77z" fill="#481f70"/><path d="M322.82 270.67l4.18-.18 2.17-2.78-4.17 .19z" fill="#355e8d"/><path d="M186.88 273.25l4 2.25 2.44-1.27-4-2.24z" fill="#3f4788"/><path d="M172.42 267.1l3.99 2.53 2.48-1.15-3.99-2.53z" fill="#32648e"/><path d="M135.41 245.35l3.99 3.29 2.57-.89-3.99-3.28z" fill="#40bd72"/><path d="M286.95 282.12l4.12 .42 2.23-2.31-4.11-.41z" fill="#482071"/><path d="M316.47 273.44l4.16-.08 2.19-2.69-4.16 .09z" fill="#3b518b"/><path d="M253.4 285.77l4.06 1.01 2.29-1.91-4.06-1z" fill="#450559"/><path d="M201.32 278.44l4.01 1.97 2.41-1.4-4.01-1.95z" fill="#472e7c"/><path d="M157.93 259.96l4 2.83 2.51-1.04-3.99-2.81z" fill="#25838e"/><path d="M310.12 276l4.15 .03 2.2-2.59-4.16-.02z" fill="#404588"/><path d="M139.4 248.64l4 3.21 2.56-.91-3.99-3.19z" fill="#2db27d"/><path d="M263.82 285.78l4.08 .81 2.27-2.01-4.07-.81z" fill="#460a5d"/><path d="M280.61 283.8l4.1 .53 2.24-2.21-4.1-.52z" fill="#48186a"/><path d="M176.41 269.63l4 2.45 2.47-1.17-3.99-2.43z" fill="#365c8d"/><path d="M303.77 278.38l4.14 .12 2.21-2.5-4.14-.11z" fill="#443983"/><path d="M226.19 284.42l4.03 1.49 2.35-1.61-4.02-1.48z" fill="#471164"/><path d="M190.88 275.5l4 2.16 2.44-1.28-4-2.15z" fill="#424086"/><path d="M236.61 285.69l4.04 1.3 2.33-1.71-4.04-1.29z" fill="#460a5d"/><path d="M215.77 282.66l4.02 1.68 2.37-1.5-4.01-1.68z" fill="#481b6d"/><path d="M161.93 262.79l3.99 2.73 2.51-1.05-3.99-2.72z" fill="#297a8e"/><path d="M143.4 251.85l4 3.11 2.55-.92-3.99-3.1z" fill="#22a884"/><path d="M247.03 286.48l4.06 1.11 2.31-1.82-4.06-1.1z" fill="#46075a"/><path d="M297.42 280.55l4.13 .23 2.22-2.4-4.13-.22z" fill="#472f7d"/><path d="M205.33 280.41l4.02 1.87 2.4-1.4-4.01-1.87z" fill="#482979"/><path d="M274.25 285.3l4.1 .62 2.26-2.12-4.1-.61z" fill="#471365"/><path d="M257.46 286.78l4.07 .92 2.29-1.92-4.07-.91z" fill="#46085c"/><path d="M180.41 272.08l4.01 2.35 2.46-1.18-4-2.34z" fill="#3a548c"/><path d="M147.4 254.96l4 3.01 2.54-.92-3.99-3.01z" fill="#1e9d89"/><path d="M291.07 282.54l4.12 .33 2.23-2.32-4.12-.32z" fill="#482677"/><path d="M327 270.49l4.19-.28 2.18-2.78-4.2 .28z" fill="#31678e"/><path d="M165.92 265.52l4 2.63 2.5-1.05-3.99-2.63z" fill="#2c728e"/><path d="M194.88 277.66l4.02 2.07 2.42-1.29-4-2.06z" fill="#443a83"/><path d="M320.63 273.36l4.19-.18 2.18-2.69-4.18 .18z" fill="#375a8c"/><path d="M230.22 285.91l4.04 1.4 2.35-1.62-4.04-1.39z" fill="#470e61"/><path d="M219.79 284.34l4.03 1.59 2.37-1.51-4.03-1.58z" fill="#48186a"/><path d="M267.9 286.59l4.09 .73 2.26-2.02-4.08-.72z" fill="#470e61"/><path d="M314.27 276.03l4.17-.08 2.19-2.59-4.16 .08z" fill="#3d4e8a"/><path d="M128.81 242.73l4.01 3.4 2.59-.78-4-3.39z" fill="#69cd5b"/><path d="M240.65 286.99l4.06 1.21 2.32-1.72-4.05-1.2z" fill="#460a5d"/><path d="M284.71 284.33l4.12 .42 2.24-2.21-4.12-.42z" fill="#481f70"/><path d="M151.4 257.97l4 2.93 2.53-.94-3.99-2.91z" fill="#20938c"/><path d="M209.35 282.28l4.02 1.78 2.4-1.4-4.02-1.78z" fill="#482576"/><path d="M307.91 278.5l4.16 .03 2.2-2.5-4.15-.03z" fill="#414287"/><path d="M251.09 287.59l4.07 1.02 2.3-1.83-4.06-1.01z" fill="#46085c"/><path d="M184.42 274.43l4.01 2.26 2.45-1.19-4-2.25z" fill="#3d4e8a"/><path d="M169.92 268.15l4.01 2.55 2.48-1.07-3.99-2.53z" fill="#306a8e"/><path d="M132.82 246.13l4 3.31 2.58-.8-3.99-3.29z" fill="#4ec36b"/><path d="M198.9 279.73l4.01 1.98 2.42-1.3-4.01-1.97z" fill="#463480"/><path d="M301.55 280.78l4.15 .13 2.21-2.41-4.14-.12z" fill="#453882"/><path d="M278.35 285.92l4.11 .53 2.25-2.12-4.1-.53z" fill="#48186a"/><path d="M261.53 287.7l4.08 .82 2.29-1.93-4.08-.81z" fill="#460b5e"/><path d="M155.4 260.9l4 2.83 2.53-.94-4-2.83z" fill="#238a8d"/><path d="M136.82 249.44l4.01 3.22 2.57-.81-4-3.21z" fill="#38b977"/><path d="M223.82 285.93l4.04 1.5 2.36-1.52-4.03-1.49z" fill="#481668"/><path d="M234.26 287.31l4.05 1.31 2.34-1.63-4.04-1.3z" fill="#470e61"/><path d="M295.19 282.87l4.14 .23 2.22-2.32-4.13-.23z" fill="#472e7c"/><path d="M173.93 270.7l4 2.45 2.48-1.07-4-2.45z" fill="#33638d"/><path d="M188.43 276.69l4.01 2.17 2.44-1.2-4-2.16z" fill="#3f4788"/><path d="M213.37 284.06l4.03 1.7 2.39-1.42-4.02-1.68z" fill="#482173"/><path d="M244.71 288.2l4.06 1.12 2.32-1.73-4.06-1.11z" fill="#460a5d"/><path d="M271.99 287.32l4.1 .63 2.26-2.03-4.1-.62z" fill="#481467"/><path d="M159.4 263.73l4.01 2.74 2.51-.95-3.99-2.73z" fill="#26818e"/><path d="M324.82 273.18l4.2-.27 2.17-2.7-4.19 .28z" fill="#33638d"/><path d="M140.83 252.66l4 3.12 2.57-.82-4-3.11z" fill="#28ae80"/><path d="M202.91 281.71l4.03 1.88 2.41-1.31-4.02-1.87z" fill="#472f7d"/><path d="M288.83 284.75l4.13 .34 2.23-2.22-4.12-.33z" fill="#482576"/><path d="M255.16 288.61l4.07 .92 2.3-1.83-4.07-.92z" fill="#460b5e"/><path d="M318.44 275.95l4.19-.16 2.19-2.61-4.19 .18z" fill="#39568c"/><path d="M177.93 273.15l4.02 2.36 2.47-1.08-4.01-2.35z" fill="#365c8d"/><path d="M312.07 278.53l4.18-.06 2.19-2.52-4.17 .08z" fill="#3e4a89"/><path d="M144.83 255.78l4.01 3.03 2.56-.84-4-3.01z" fill="#20a486"/><path d="M192.44 278.86l4.02 2.07 2.44-1.2-4.02-2.07z" fill="#424186"/><path d="M163.41 266.47l4 2.65 2.51-.97-4-2.63z" fill="#2a788e"/><path d="M265.61 288.52l4.1 .73 2.28-1.93-4.09-.73z" fill="#471063"/><path d="M282.46 286.45l4.12 .43 2.25-2.13-4.12-.42z" fill="#481f70"/><path d="M227.86 287.43l4.05 1.41 2.35-1.53-4.04-1.4z" fill="#481467"/><path d="M305.7 280.91l4.17 .04 2.2-2.42-4.16-.03z" fill="#424086"/><path d="M238.31 288.62l4.06 1.22 2.34-1.64-4.06-1.21z" fill="#470e61"/><path d="M217.4 285.76l4.04 1.6 2.38-1.43-4.03-1.59z" fill="#481d6f"/><path d="M248.77 289.32l4.07 1.02 2.32-1.73-4.07-1.02z" fill="#460b5e"/><path d="M126.2 243.42l4.01 3.41 2.61-.7-4.01-3.4z" fill="#7cd250"/><path d="M206.94 283.59l4.03 1.79 2.4-1.32-4.02-1.78z" fill="#472c7a"/><path d="M148.84 258.81l4.01 2.93 2.55-.84-4-2.93z" fill="#1f9a8a"/><path d="M299.33 283.1l4.16 .14 2.21-2.33-4.15-.13z" fill="#453581"/><path d="M181.95 275.51l4.01 2.27 2.47-1.09-4.01-2.26z" fill="#3a548c"/><path d="M276.09 287.95l4.11 .53 2.26-2.03-4.11-.53z" fill="#481a6c"/><path d="M167.41 269.12l4.01 2.55 2.51-.97-4.01-2.55z" fill="#2d718e"/><path d="M259.23 289.53l4.09 .83 2.29-1.84-4.08-.82z" fill="#470e61"/><path d="M196.46 280.93l4.02 1.99 2.43-1.21-4.01-1.98z" fill="#443b84"/><path d="M130.21 246.83l4.01 3.32 2.6-.71-4-3.31z" fill="#5ec962"/><path d="M292.96 285.09l4.14 .24 2.23-2.23-4.14-.23z" fill="#472d7b"/><path d="M152.85 261.74l4.01 2.84 2.54-.85-4-2.83z" fill="#21918c"/><path d="M231.91 288.84l4.06 1.32 2.34-1.54-4.05-1.31z" fill="#471365"/><path d="M322.63 275.79l4.21-.27 2.18-2.61-4.2 .27z" fill="#34608d"/><path d="M221.44 287.36l4.05 1.5 2.37-1.43-4.04-1.5z" fill="#481c6e"/><path d="M242.37 289.84l4.07 1.12 2.33-1.64-4.06-1.12z" fill="#470e61"/><path d="M134.22 250.15l4.02 3.22 2.59-.71-4.01-3.22z" fill="#46c06f"/><path d="M269.71 289.25l4.11 .64 2.27-1.94-4.1-.63z" fill="#481668"/><path d="M210.97 285.38l4.04 1.7 2.39-1.32-4.03-1.7z" fill="#482878"/><path d="M171.42 271.67l4.02 2.47 2.49-.99-4-2.45z" fill="#30698e"/><path d="M185.96 277.78l4.02 2.18 2.46-1.1-4.01-2.17z" fill="#3d4e8a"/><path d="M316.25 278.47l4.19-.17 2.19-2.51-4.19 .16z" fill="#3a548c"/><path d="M286.58 286.88l4.14 .34 2.24-2.13-4.13-.34z" fill="#482576"/><path d="M252.84 290.34l4.09 .93 2.3-1.74-4.07-.92z" fill="#470e61"/><path d="M309.87 280.95l4.18-.06 2.2-2.42-4.18 .06z" fill="#3f4889"/><path d="M156.86 264.58l4.01 2.75 2.54-.86-4.01-2.74z" fill="#23888e"/><path d="M200.48 282.92l4.03 1.89 2.43-1.22-4.03-1.88z" fill="#453781"/><path d="M138.24 253.37l4.01 3.14 2.58-.73-4-3.12z" fill="#32b67a"/><path d="M303.49 283.24l4.16 .04 2.22-2.33-4.17-.04z" fill="#433e85"/><path d="M280.2 288.48l4.13 .45 2.25-2.05-4.12-.43z" fill="#481f70"/><path d="M263.32 290.36l4.1 .74 2.29-1.85-4.1-.73z" fill="#471365"/><path d="M175.44 274.14l4.02 2.37 2.49-1-4.02-2.36z" fill="#33628d"/><path d="M189.98 279.96l4.03 2.09 2.45-1.12-4.02-2.07z" fill="#3f4889"/><path d="M225.49 288.86l4.05 1.42 2.37-1.44-4.05-1.41z" fill="#481a6c"/><path d="M235.97 290.16l4.06 1.22 2.34-1.54-4.06-1.22z" fill="#471365"/><path d="M142.25 256.51l4.02 3.03 2.57-.73-4.01-3.03z" fill="#25ac82"/><path d="M160.87 267.33l4.02 2.66 2.52-.87-4-2.65z" fill="#27808e"/><path d="M215.01 287.08l4.04 1.61 2.39-1.33-4.04-1.6z" fill="#482475"/><path d="M297.1 285.33l4.16 .14 2.23-2.23-4.16-.14z" fill="#453581"/><path d="M246.44 290.96l4.08 1.03 2.32-1.65-4.07-1.02z" fill="#471063"/><path d="M204.51 284.81l4.04 1.8 2.42-1.23-4.03-1.79z" fill="#46327e"/><path d="M273.82 289.89l4.12 .54 2.26-1.95-4.11-.53z" fill="#481b6d"/><path d="M123.56 244l4.03 3.43 2.62-.6-4.01-3.41z" fill="#93d741"/><path d="M256.93 291.27l4.09 .84 2.3-1.75-4.09-.83z" fill="#471365"/><path d="M146.27 259.54l4.02 2.95 2.56-.75-4.01-2.93z" fill="#1fa187"/><path d="M179.46 276.51l4.02 2.28 2.48-1.01-4.01-2.27z" fill="#365c8d"/><path d="M290.72 287.22l4.15 .25 2.23-2.14-4.14-.24z" fill="#472d7b"/><path d="M320.44 278.3l4.21-.25 2.19-2.53-4.21 .27z" fill="#365d8d"/><path d="M164.89 269.99l4.02 2.57 2.51-.89-4.01-2.55z" fill="#2a788e"/><path d="M194.01 282.05l4.03 1.99 2.44-1.12-4.02-1.99z" fill="#414287"/><path d="M314.05 280.89l4.19-.16 2.2-2.43-4.19 .17z" fill="#3b528b"/><path d="M127.59 247.43l4.02 3.33 2.61-.61-4.01-3.32z" fill="#73d056"/><path d="M229.54 290.28l4.07 1.32 2.36-1.44-4.06-1.32z" fill="#481a6c"/><path d="M267.42 291.1l4.12 .64 2.28-1.85-4.11-.64z" fill="#48186a"/><path d="M219.05 288.69l4.05 1.52 2.39-1.35-4.05-1.5z" fill="#482173"/><path d="M284.33 288.93l4.14 .34 2.25-2.05-4.14-.34z" fill="#482677"/><path d="M240.03 291.38l4.08 1.13 2.33-1.55-4.07-1.12z" fill="#481467"/><path d="M150.29 262.49l4.01 2.85 2.56-.76-4.01-2.84z" fill="#1f988b"/><path d="M307.65 283.28l4.19-.05 2.21-2.34-4.18 .06z" fill="#3f4788"/><path d="M208.55 286.61l4.05 1.71 2.41-1.24-4.04-1.7z" fill="#472e7c"/><path d="M250.52 291.99l4.09 .94 2.32-1.66-4.09-.93z" fill="#471365"/><path d="M183.48 278.79l4.03 2.18 2.47-1.01-4.02-2.18z" fill="#39558c"/><path d="M131.61 250.76l4.02 3.24 2.61-.63-4.02-3.22z" fill="#58c765"/><path d="M168.91 272.56l4.02 2.47 2.51-.89-4.02-2.47z" fill="#2d718e"/><path d="M301.26 285.47l4.18 .05 2.21-2.24-4.16-.04z" fill="#433e85"/><path d="M198.04 284.04l4.04 1.9 2.43-1.13-4.03-1.89z" fill="#433e85"/><path d="M277.94 290.43l4.13 .45 2.26-1.95-4.13-.45z" fill="#482173"/><path d="M154.3 265.34l4.03 2.76 2.54-.77-4.01-2.75z" fill="#21908d"/><path d="M261.02 292.11l4.11 .74 2.29-1.75-4.1-.74z" fill="#481668"/><path d="M135.63 254l4.03 3.14 2.59-.63-4.01-3.14z" fill="#40bd72"/><path d="M294.87 287.47l4.16 .15 2.23-2.15-4.16-.14z" fill="#453581"/><path d="M223.1 290.21l4.06 1.42 2.38-1.35-4.05-1.42z" fill="#482071"/><path d="M233.61 291.6l4.07 1.23 2.35-1.45-4.06-1.22z" fill="#481a6c"/><path d="M172.93 275.03l4.03 2.38 2.5-.9-4.02-2.37z" fill="#306a8e"/><path d="M187.51 280.97l4.03 2.1 2.47-1.02-4.03-2.09z" fill="#3c508b"/><path d="M212.6 288.32l4.05 1.62 2.4-1.25-4.04-1.61z" fill="#472c7a"/><path d="M244.11 292.51l4.08 1.04 2.33-1.56-4.08-1.03z" fill="#481668"/><path d="M271.54 291.74l4.12 .55 2.28-1.86-4.12-.54z" fill="#481d6f"/><path d="M158.33 268.1l4.02 2.67 2.54-.78-4.02-2.66z" fill="#24878e"/><path d="M139.66 257.14l4.02 3.05 2.59-.65-4.02-3.03z" fill="#2fb47c"/><path d="M318.24 280.73l4.22-.25 2.19-2.43-4.21 .25z" fill="#375b8d"/><path d="M288.47 289.27l4.16 .26 2.24-2.06-4.15-.25z" fill="#472e7c"/><path d="M202.08 285.94l4.04 1.81 2.43-1.14-4.04-1.8z" fill="#443983"/><path d="M254.61 292.93l4.1 .84 2.31-1.66-4.09-.84z" fill="#481668"/><path d="M311.84 283.23l4.2-.15 2.2-2.35-4.19 .16z" fill="#3c508b"/><path d="M176.96 277.41l4.03 2.29 2.49-.91-4.02-2.28z" fill="#33638d"/><path d="M120.92 244.5l4.03 3.43 2.64-.5-4.03-3.43z" fill="#addc30"/><path d="M143.68 260.19l4.03 2.96 2.58-.66-4.02-2.95z" fill="#24aa83"/><path d="M162.35 270.77l4.03 2.58 2.53-.79-4.02-2.57z" fill="#27808e"/><path d="M191.54 283.07l4.04 2 2.46-1.03-4.03-1.99z" fill="#3e4a89"/><path d="M265.13 292.85l4.12 .65 2.29-1.76-4.12-.64z" fill="#481b6d"/><path d="M282.07 290.88l4.15 .35 2.25-1.96-4.14-.34z" fill="#482878"/><path d="M305.44 285.52l4.19-.04 2.21-2.25-4.19 .05z" fill="#404688"/><path d="M227.16 291.63l4.07 1.33 2.38-1.36-4.07-1.32z" fill="#482071"/><path d="M237.68 292.83l4.08 1.14 2.35-1.46-4.08-1.13z" fill="#481a6c"/><path d="M216.65 289.94l4.06 1.52 2.39-1.25-4.05-1.52z" fill="#482979"/><path d="M124.95 247.93l4.03 3.35 2.63-.52-4.02-3.33z" fill="#8bd646"/><path d="M248.19 293.55l4.1 .94 2.32-1.56-4.09-.94z" fill="#48186a"/><path d="M147.71 263.15l4.02 2.86 2.57-.67-4.01-2.85z" fill="#1fa188"/><path d="M299.03 287.62l4.18 .06 2.23-2.16-4.18-.05z" fill="#433e85"/><path d="M206.12 287.75l4.05 1.71 2.43-1.14-4.05-1.71z" fill="#453581"/><path d="M180.99 279.7l4.04 2.19 2.48-.92-4.03-2.18z" fill="#365d8d"/><path d="M275.66 292.29l4.14 .45 2.27-1.86-4.13-.45z" fill="#482374"/><path d="M166.38 273.35l4.03 2.48 2.52-.8-4.02-2.47z" fill="#2a788e"/><path d="M128.98 251.28l4.03 3.24 2.62-.52-4.02-3.24z" fill="#6ccd5a"/><path d="M258.71 293.77l4.12 .75 2.3-1.67-4.11-.74z" fill="#481a6c"/><path d="M195.58 285.07l4.05 1.91 2.45-1.04-4.04-1.9z" fill="#404688"/><path d="M292.63 289.53l4.16 .15 2.24-2.06-4.16-.15z" fill="#453581"/><path d="M151.73 266.01l4.03 2.77 2.57-.68-4.03-2.76z" fill="#1f978b"/><path d="M133.01 254.52l4.03 3.16 2.62-.54-4.03-3.14z" fill="#52c569"/><path d="M231.23 292.96l4.08 1.24 2.37-1.37-4.07-1.23z" fill="#481f70"/><path d="M220.71 291.46l4.07 1.43 2.38-1.26-4.06-1.42z" fill="#482878"/><path d="M316.04 283.08l4.22-.25 2.2-2.35-4.22 .25z" fill="#375a8c"/><path d="M269.25 293.5l4.13 .56 2.28-1.77-4.12-.55z" fill="#482071"/><path d="M241.76 293.97l4.09 1.05 2.34-1.47-4.08-1.04z" fill="#481b6d"/><path d="M170.41 275.83l4.03 2.39 2.52-.81-4.03-2.38z" fill="#2c718e"/><path d="M185.03 281.89l4.04 2.1 2.47-.92-4.03-2.1z" fill="#38588c"/><path d="M286.22 291.23l4.16 .26 2.25-1.96-4.16-.26z" fill="#472f7d"/><path d="M210.17 289.46l4.06 1.63 2.42-1.15-4.05-1.62z" fill="#46337f"/><path d="M309.63 285.48l4.2-.15 2.21-2.25-4.2 .15z" fill="#3c508b"/><path d="M252.29 294.49l4.11 .85 2.31-1.57-4.1-.84z" fill="#481b6d"/><path d="M155.76 268.78l4.04 2.68 2.55-.69-4.02-2.67z" fill="#21908d"/><path d="M137.04 257.68l4.04 3.06 2.6-.55-4.02-3.05z" fill="#3dbc74"/><path d="M199.63 286.98l4.05 1.81 2.44-1.04-4.04-1.81z" fill="#424186"/><path d="M303.21 287.68l4.2-.04 2.22-2.16-4.19 .04z" fill="#404688"/><path d="M279.8 292.74l4.15 .37 2.27-1.88-4.15-.35z" fill="#472a7a"/><path d="M262.83 294.52l4.12 .66 2.3-1.68-4.12-.65z" fill="#481f70"/><path d="M174.44 278.22l4.04 2.29 2.51-.81-4.03-2.29z" fill="#2f6b8e"/><path d="M141.08 260.74l4.03 2.97 2.6-.56-4.03-2.96z" fill="#2db27d"/><path d="M189.07 283.99l4.04 2.02 2.47-.94-4.04-2z" fill="#3b528b"/><path d="M118.25 244.89l4.04 3.45 2.66-.41-4.03-3.43z" fill="#c5e021"/><path d="M224.78 292.89l4.07 1.34 2.38-1.27-4.07-1.33z" fill="#482677"/><path d="M159.8 271.46l4.03 2.58 2.55-.69-4.03-2.58z" fill="#24878e"/><path d="M235.31 294.2l4.09 1.14 2.36-1.37-4.08-1.14z" fill="#482071"/><path d="M296.79 289.68l4.19 .07 2.23-2.07-4.18-.06z" fill="#433e85"/><path d="M214.23 291.09l4.07 1.53 2.41-1.16-4.06-1.52z" fill="#46307e"/><path d="M245.85 295.02l4.1 .95 2.34-1.48-4.1-.94z" fill="#481d6f"/><path d="M273.38 294.06l4.14 .46 2.28-1.78-4.14-.45z" fill="#482677"/><path d="M122.29 248.34l4.04 3.36 2.65-.42-4.03-3.35z" fill="#a2da37"/><path d="M203.68 288.79l4.06 1.73 2.43-1.06-4.05-1.71z" fill="#433e85"/><path d="M145.11 263.71l4.04 2.87 2.58-.57-4.02-2.86z" fill="#23a983"/><path d="M290.38 291.49l4.17 .17 2.24-1.98-4.16-.15z" fill="#453781"/><path d="M256.4 295.34l4.11 .76 2.32-1.58-4.12-.75z" fill="#481f70"/><path d="M178.48 280.51l4.05 2.21 2.5-.83-4.04-2.19z" fill="#32658e"/><path d="M163.83 274.04l4.04 2.49 2.54-.7-4.03-2.48z" fill="#27808e"/><path d="M313.83 285.33l4.22-.24 2.21-2.26-4.22 .25z" fill="#38598c"/><path d="M126.33 251.7l4.04 3.26 2.64-.44-4.03-3.24z" fill="#84d44b"/><path d="M193.11 286.01l4.06 1.91 2.46-.94-4.05-1.91z" fill="#3d4e8a"/><path d="M266.95 295.18l4.14 .56 2.29-1.68-4.13-.56z" fill="#482475"/><path d="M228.85 294.23l4.09 1.24 2.37-1.27-4.08-1.24z" fill="#482677"/><path d="M149.15 266.58l4.04 2.78 2.57-.58-4.03-2.77z" fill="#1fa188"/><path d="M283.95 293.11l4.17 .26 2.26-1.88-4.16-.26z" fill="#46307e"/><path d="M218.3 292.62l4.07 1.44 2.41-1.17-4.07-1.43z" fill="#472f7d"/><path d="M307.41 287.64l4.21-.14 2.21-2.17-4.2 .15z" fill="#3c4f8a"/><path d="M239.4 295.34l4.1 1.06 2.35-1.38-4.09-1.05z" fill="#482173"/><path d="M130.37 254.96l4.04 3.16 2.63-.44-4.03-3.16z" fill="#67cc5c"/><path d="M207.74 290.52l4.07 1.63 2.42-1.06-4.06-1.63z" fill="#443a83"/><path d="M167.87 276.53l4.04 2.4 2.53-.71-4.03-2.39z" fill="#29798e"/><path d="M182.53 282.72l4.05 2.11 2.49-.84-4.04-2.1z" fill="#34608d"/><path d="M249.95 295.97l4.12 .86 2.33-1.49-4.11-.85z" fill="#482071"/><path d="M300.98 289.75l4.2-.04 2.23-2.07-4.2 .04z" fill="#3f4788"/><path d="M277.52 294.52l4.16 .37 2.27-1.78-4.15-.37z" fill="#472d7b"/><path d="M153.19 269.36l4.04 2.69 2.57-.59-4.04-2.68z" fill="#1f988b"/><path d="M197.17 287.92l4.06 1.83 2.45-.96-4.05-1.81z" fill="#3e4989"/><path d="M134.41 258.12l4.04 3.08 2.63-.46-4.04-3.06z" fill="#50c46a"/><path d="M260.51 296.1l4.14 .66 2.3-1.58-4.12-.66z" fill="#482374"/><path d="M294.55 291.66l4.19 .07 2.24-1.98-4.19-.07z" fill="#423f85"/><path d="M171.91 278.93l4.05 2.31 2.52-.73-4.04-2.29z" fill="#2c738e"/><path d="M222.37 294.06l4.09 1.34 2.39-1.17-4.07-1.34z" fill="#472e7c"/><path d="M232.94 295.47l4.09 1.16 2.37-1.29-4.09-1.14z" fill="#482677"/><path d="M186.58 284.83l4.05 2.02 2.48-.84-4.04-2.02z" fill="#375b8d"/><path d="M138.45 261.2l4.05 2.97 2.61-.46-4.03-2.97z" fill="#3bbb75"/><path d="M211.81 292.15l4.07 1.54 2.42-1.07-4.07-1.53z" fill="#443983"/><path d="M243.5 296.4l4.11 .95 2.34-1.38-4.1-.95z" fill="#482475"/><path d="M157.23 272.05l4.04 2.6 2.56-.61-4.03-2.58z" fill="#21908d"/><path d="M271.09 295.74l4.15 .47 2.28-1.69-4.14-.46z" fill="#472a7a"/><path d="M115.56 245.2l4.05 3.46 2.68-.32-4.04-3.45z" fill="#e2e418"/><path d="M288.12 293.37l4.18 .17 2.25-1.88-4.17-.17z" fill="#443983"/><path d="M201.23 289.75l4.06 1.73 2.45-.96-4.06-1.73z" fill="#404688"/><path d="M254.07 296.83l4.12 .76 2.32-1.49-4.11-.76z" fill="#482475"/><path d="M311.62 287.5l4.22-.23 2.21-2.18-4.22 .24z" fill="#38598c"/><path d="M119.61 248.66l4.05 3.36 2.67-.32-4.04-3.36z" fill="#c0df25"/><path d="M142.5 264.17l4.04 2.89 2.61-.48-4.04-2.87z" fill="#2db27d"/><path d="M175.96 281.24l4.05 2.21 2.52-.73-4.05-2.21z" fill="#2e6e8e"/><path d="M161.27 274.65l4.05 2.5 2.55-.62-4.04-2.49z" fill="#23898e"/><path d="M305.18 289.71l4.21-.13 2.23-2.08-4.21 .14z" fill="#3c508b"/><path d="M281.68 294.89l4.17 .27 2.27-1.79-4.17-.26z" fill="#463480"/><path d="M190.63 286.85l4.06 1.93 2.48-.86-4.06-1.91z" fill="#39568c"/><path d="M264.65 296.76l4.14 .57 2.3-1.59-4.14-.56z" fill="#482878"/><path d="M123.66 252.02l4.05 3.27 2.66-.33-4.04-3.26z" fill="#9dd93b"/><path d="M226.46 295.4l4.09 1.26 2.39-1.19-4.09-1.24z" fill="#472e7c"/><path d="M237.03 296.63l4.11 1.05 2.36-1.28-4.1-1.06z" fill="#482878"/><path d="M215.88 293.69l4.08 1.45 2.41-1.08-4.07-1.44z" fill="#453781"/><path d="M298.74 291.73l4.2-.03 2.24-1.99-4.2 .04z" fill="#3f4889"/><path d="M146.54 267.06l4.05 2.79 2.6-.49-4.04-2.78z" fill="#23a983"/><path d="M247.61 297.35l4.12 .87 2.34-1.39-4.12-.86z" fill="#482677"/><path d="M205.29 291.48l4.08 1.64 2.44-.97-4.07-1.63z" fill="#414487"/><path d="M127.71 255.29l4.06 3.18 2.64-.35-4.04-3.16z" fill="#81d34d"/><path d="M180.01 283.45l4.06 2.12 2.51-.74-4.05-2.11z" fill="#31688e"/><path d="M275.24 296.21l4.16 .37 2.28-1.69-4.16-.37z" fill="#46307e"/><path d="M165.32 277.15l4.05 2.41 2.54-.63-4.04-2.4z" fill="#26828e"/><path d="M258.19 297.59l4.14 .67 2.32-1.5-4.14-.66z" fill="#482979"/><path d="M292.3 293.54l4.19 .08 2.25-1.89-4.19-.07z" fill="#424186"/><path d="M194.69 288.78l4.07 1.83 2.47-.86-4.06-1.83z" fill="#3b528b"/><path d="M150.59 269.85l4.05 2.7 2.59-.5-4.04-2.69z" fill="#1fa188"/><path d="M131.77 258.47l4.05 3.09 2.63-.36-4.04-3.08z" fill="#65cb5e"/><path d="M230.55 296.66l4.1 1.16 2.38-1.19-4.09-1.16z" fill="#472e7c"/><path d="M219.96 295.14l4.09 1.35 2.41-1.09-4.09-1.34z" fill="#453781"/><path d="M268.79 297.33l4.15 .48 2.3-1.6-4.15-.47z" fill="#472e7c"/><path d="M241.14 297.68l4.11 .97 2.36-1.3-4.11-.95z" fill="#472a7a"/><path d="M169.37 279.56l4.06 2.31 2.53-.63-4.05-2.31z" fill="#287c8e"/><path d="M285.85 295.16l4.19 .18 2.26-1.8-4.18-.17z" fill="#443b84"/><path d="M184.07 285.57l4.06 2.03 2.5-.75-4.05-2.02z" fill="#33638d"/><path d="M309.39 289.58l4.23-.23 2.22-2.08-4.22 .23z" fill="#375a8c"/><path d="M209.37 293.12l4.08 1.55 2.43-.98-4.07-1.54z" fill="#424186"/><path d="M135.82 261.56l4.05 2.98 2.63-.37-4.05-2.97z" fill="#50c46a"/><path d="M154.64 272.55l4.05 2.6 2.58-.5-4.04-2.6z" fill="#1f998a"/><path d="M251.73 298.22l4.13 .77 2.33-1.4-4.12-.76z" fill="#472a7a"/><path d="M112.86 245.4l4.06 3.47 2.69-.21-4.05-3.46z" fill="#fde725"/><path d="M198.76 290.61l4.07 1.74 2.46-.87-4.06-1.73z" fill="#3c4f8a"/><path d="M302.94 291.7l4.22-.13 2.23-1.99-4.21 .13z" fill="#3b518b"/><path d="M279.4 296.58l4.18 .28 2.27-1.7-4.17-.27z" fill="#453882"/><path d="M262.33 298.26l4.15 .58 2.31-1.51-4.14-.57z" fill="#472e7c"/><path d="M116.92 248.87l4.06 3.38 2.68-.23-4.05-3.36z" fill="#dde318"/><path d="M173.43 281.87l4.06 2.22 2.52-.64-4.05-2.21z" fill="#2a768e"/><path d="M139.87 264.54l4.05 2.9 2.62-.38-4.04-2.89z" fill="#3bbb75"/><path d="M188.13 287.6l4.07 1.94 2.49-.76-4.06-1.93z" fill="#355f8d"/><path d="M158.69 275.15l4.06 2.51 2.57-.51-4.05-2.5z" fill="#20928c"/><path d="M296.49 293.62l4.21-.03 2.24-1.89-4.2 .03z" fill="#3e4989"/><path d="M224.05 296.49l4.1 1.26 2.4-1.09-4.09-1.26z" fill="#453581"/><path d="M234.65 297.82l4.12 1.06 2.37-1.2-4.11-1.05z" fill="#472f7d"/><path d="M213.45 294.67l4.09 1.45 2.42-.98-4.08-1.45z" fill="#423f85"/><path d="M120.98 252.25l4.06 3.29 2.67-.25-4.05-3.27z" fill="#bade28"/><path d="M245.25 298.65l4.13 .87 2.35-1.3-4.12-.87z" fill="#472d7b"/><path d="M272.94 297.81l4.17 .38 2.29-1.61-4.16-.37z" fill="#463480"/><path d="M202.83 292.35l4.08 1.65 2.46-.88-4.08-1.64z" fill="#3e4c8a"/><path d="M143.92 267.44l4.06 2.8 2.61-.39-4.05-2.79z" fill="#2eb37c"/><path d="M290.04 295.34l4.2 .08 2.25-1.8-4.19-.08z" fill="#414487"/><path d="M255.86 298.99l4.14 .68 2.33-1.41-4.14-.67z" fill="#472e7c"/><path d="M177.49 284.09l4.06 2.13 2.52-.65-4.06-2.12z" fill="#2d718e"/><path d="M162.75 277.66l4.06 2.42 2.56-.52-4.05-2.41z" fill="#228b8d"/><path d="M125.04 255.54l4.06 3.18 2.67-.25-4.06-3.18z" fill="#9dd93b"/><path d="M192.2 289.54l4.08 1.84 2.48-.77-4.07-1.83z" fill="#375b8d"/><path d="M147.98 270.24l4.06 2.71 2.6-.4-4.05-2.7z" fill="#25ab82"/><path d="M307.16 291.57l4.24-.22 2.22-2-4.23 .23z" fill="#375b8d"/><path d="M266.48 298.84l4.16 .48 2.3-1.51-4.15-.48z" fill="#46337f"/><path d="M283.58 296.86l4.19 .18 2.27-1.7-4.19-.18z" fill="#423f85"/><path d="M228.15 297.75l4.11 1.16 2.39-1.09-4.1-1.16z" fill="#453781"/><path d="M217.54 296.12l4.1 1.36 2.41-.99-4.09-1.35z" fill="#423f85"/><path d="M129.1 258.72l4.06 3.1 2.66-.26-4.05-3.09z" fill="#7fd34e"/><path d="M238.77 298.88l4.12 .97 2.36-1.2-4.11-.97z" fill="#46327e"/><path d="M206.91 294l4.09 1.55 2.45-.88-4.08-1.55z" fill="#3e4a89"/><path d="M166.81 280.08l4.07 2.33 2.55-.54-4.06-2.31z" fill="#25848e"/><path d="M181.55 286.22l4.07 2.04 2.51-.66-4.06-2.03z" fill="#2f6c8e"/><path d="M249.38 299.52l4.14 .78 2.34-1.31-4.13-.77z" fill="#46307e"/><path d="M300.7 293.59l4.23-.11 2.23-1.91-4.22 .13z" fill="#3a538b"/><path d="M152.04 272.95l4.06 2.62 2.59-.42-4.05-2.6z" fill="#1fa287"/><path d="M277.11 298.19l4.19 .28 2.28-1.61-4.18-.28z" fill="#443b84"/><path d="M133.16 261.82l4.06 3 2.65-.28-4.05-2.98z" fill="#67cc5c"/><path d="M196.28 291.38l4.08 1.75 2.47-.78-4.07-1.74z" fill="#38588c"/><path d="M260 299.67l4.16 .58 2.32-1.41-4.15-.58z" fill="#46337f"/><path d="M294.24 295.42l4.21-.02 2.25-1.81-4.21 .03z" fill="#3d4d8a"/><path d="M170.88 282.41l4.06 2.23 2.55-.55-4.06-2.22z" fill="#277f8e"/><path d="M232.26 298.91l4.12 1.08 2.39-1.11-4.12-1.06z" fill="#453882"/><path d="M221.64 297.48l4.1 1.27 2.41-1-4.1-1.26z" fill="#423f85"/><path d="M137.22 264.82l4.07 2.91 2.63-.29-4.05-2.9z" fill="#50c46a"/><path d="M185.62 288.26l4.08 1.94 2.5-.66-4.07-1.94z" fill="#31688e"/><path d="M156.1 275.57l4.07 2.52 2.58-.43-4.06-2.51z" fill="#1e9c89"/><path d="M242.89 299.85l4.13 .88 2.36-1.21-4.13-.87z" fill="#463480"/><path d="M270.64 299.32l4.17 .38 2.3-1.51-4.17-.38z" fill="#443983"/><path d="M211 295.55l4.1 1.46 2.44-.89-4.09-1.45z" fill="#3f4889"/><path d="M287.77 297.04l4.2 .09 2.27-1.71-4.2-.08z" fill="#3f4788"/><path d="M253.52 300.3l4.15 .68 2.33-1.31-4.14-.68z" fill="#453581"/><path d="M200.36 293.13l4.09 1.65 2.46-.78-4.08-1.65z" fill="#39558c"/><path d="M141.29 267.73l4.06 2.81 2.63-.3-4.06-2.8z" fill="#3fbc73"/><path d="M174.94 284.64l4.08 2.14 2.53-.56-4.06-2.13z" fill="#297a8e"/><path d="M304.93 293.48l4.24-.22 2.23-1.91-4.24 .22z" fill="#365c8d"/><path d="M160.17 278.09l4.07 2.42 2.57-.43-4.06-2.42z" fill="#1f948c"/><path d="M281.3 298.47l4.19 .19 2.28-1.62-4.19-.18z" fill="#414287"/><path d="M264.16 300.25l4.17 .48 2.31-1.41-4.16-.48z" fill="#443983"/><path d="M189.7 290.2l4.08 1.85 2.5-.67-4.08-1.84z" fill="#32648e"/><path d="M225.74 298.75l4.12 1.17 2.4-1.01-4.11-1.16z" fill="#423f85"/><path d="M236.38 299.99l4.13 .98 2.38-1.12-4.12-.97z" fill="#443983"/><path d="M215.1 297.01l4.11 1.37 2.43-.9-4.1-1.36z" fill="#3f4788"/><path d="M298.45 295.4l4.23-.11 2.25-1.81-4.23 .11z" fill="#39558c"/><path d="M145.35 270.54l4.07 2.72 2.62-.31-4.06-2.71z" fill="#31b57b"/><path d="M247.02 300.73l4.14 .78 2.36-1.21-4.14-.78z" fill="#453882"/><path d="M204.45 294.78l4.09 1.57 2.46-.8-4.09-1.55z" fill="#3a538b"/><path d="M274.81 299.7l4.19 .29 2.3-1.52-4.19-.28z" fill="#424086"/><path d="M179.02 286.78l4.08 2.04 2.52-.56-4.07-2.04z" fill="#2b758e"/><path d="M164.24 280.51l4.07 2.34 2.57-.44-4.07-2.33z" fill="#218f8d"/><path d="M291.97 297.13l4.23-.01 2.25-1.72-4.21 .02z" fill="#3c4f8a"/><path d="M257.67 300.98l4.16 .59 2.33-1.32-4.16-.58z" fill="#443983"/><path d="M193.78 292.05l4.09 1.76 2.49-.68-4.08-1.75z" fill="#34618d"/><path d="M149.42 273.26l4.07 2.62 2.61-.31-4.06-2.62z" fill="#26ad81"/><path d="M229.86 299.92l4.12 1.08 2.4-1.01-4.12-1.08z" fill="#424086"/><path d="M268.33 300.73l4.18 .4 2.3-1.43-4.17-.38z" fill="#423f85"/><path d="M219.21 298.38l4.11 1.28 2.42-.91-4.1-1.27z" fill="#3f4788"/><path d="M285.49 298.66l4.21 .09 2.27-1.62-4.2-.09z" fill="#3e4a89"/><path d="M168.31 282.85l4.08 2.24 2.55-.45-4.06-2.23z" fill="#23898e"/><path d="M240.51 300.97l4.14 .88 2.37-1.12-4.13-.88z" fill="#433d84"/><path d="M183.1 288.82l4.08 1.96 2.52-.58-4.08-1.94z" fill="#2c718e"/><path d="M208.54 296.35l4.11 1.46 2.45-.8-4.1-1.46z" fill="#3b528b"/><path d="M153.49 275.88l4.08 2.53 2.6-.32-4.07-2.52z" fill="#21a685"/><path d="M251.16 301.51l4.16 .69 2.35-1.22-4.15-.68z" fill="#443b84"/><path d="M302.68 295.29l4.25-.21 2.24-1.82-4.24 .22z" fill="#355f8d"/><path d="M197.87 293.81l4.1 1.66 2.48-.69-4.09-1.65z" fill="#355f8d"/><path d="M279 299.99l4.21 .2 2.28-1.53-4.19-.19z" fill="#3f4788"/><path d="M261.83 301.57l4.17 .49 2.33-1.33-4.17-.48z" fill="#423f85"/><path d="M172.39 285.09l4.08 2.15 2.55-.46-4.08-2.14z" fill="#25838e"/><path d="M296.2 297.12l4.23-.11 2.25-1.72-4.23 .11z" fill="#38598c"/><path d="M157.57 278.41l4.07 2.44 2.6-.34-4.07-2.42z" fill="#1f9f88"/><path d="M187.18 290.78l4.09 1.85 2.51-.58-4.08-1.85z" fill="#2e6e8e"/><path d="M223.32 299.66l4.12 1.18 2.42-.92-4.12-1.17z" fill="#3f4889"/><path d="M233.98 301l4.14 .99 2.39-1.02-4.13-.98z" fill="#414287"/><path d="M212.65 297.81l4.11 1.38 2.45-.81-4.11-1.37z" fill="#3b518b"/><path d="M244.65 301.85l4.15 .79 2.36-1.13-4.14-.78z" fill="#423f85"/><path d="M272.51 301.13l4.19 .29 2.3-1.43-4.19-.29z" fill="#404688"/><path d="M289.7 298.75l4.23 0 2.27-1.63-4.23 .01z" fill="#3a538b"/><path d="M201.97 295.47l4.1 1.57 2.47-.69-4.09-1.57z" fill="#365d8d"/><path d="M255.32 302.2l4.17 .6 2.34-1.23-4.16-.59z" fill="#424086"/><path d="M176.47 287.24l4.09 2.05 2.54-.47-4.08-2.04z" fill="#277f8e"/><path d="M161.64 280.85l4.09 2.35 2.58-.35-4.07-2.34z" fill="#1f998a"/><path d="M191.27 292.63l4.1 1.77 2.5-.59-4.09-1.76z" fill="#2f6b8e"/><path d="M283.21 300.19l4.21 .09 2.28-1.53-4.21-.09z" fill="#3c4f8a"/><path d="M266 302.06l4.19 .4 2.32-1.33-4.18-.4z" fill="#404588"/><path d="M227.44 300.84l4.14 1.08 2.4-.92-4.12-1.08z" fill="#3e4989"/><path d="M216.76 299.19l4.12 1.28 2.44-.81-4.11-1.28z" fill="#3b518b"/><path d="M238.12 301.99l4.15 .89 2.38-1.03-4.14-.88z" fill="#404588"/><path d="M300.43 297.01l4.25-.2 2.25-1.73-4.25 .21z" fill="#34618d"/><path d="M165.73 283.2l4.08 2.25 2.58-.36-4.08-2.24z" fill="#20938c"/><path d="M206.07 297.04l4.12 1.48 2.46-.71-4.11-1.46z" fill="#365c8d"/><path d="M180.56 289.29l4.09 1.96 2.53-.47-4.08-1.96z" fill="#297b8e"/><path d="M248.8 302.64l4.16 .7 2.36-1.14-4.16-.69z" fill="#414487"/><path d="M276.7 301.42l4.21 .2 2.3-1.43-4.21-.2z" fill="#3d4d8a"/><path d="M195.37 294.4l4.11 1.67 2.49-.6-4.1-1.66z" fill="#31688e"/><path d="M259.49 302.8l4.18 .5 2.33-1.24-4.17-.49z" fill="#404688"/><path d="M293.93 298.75l4.24-.11 2.26-1.63-4.23 .11z" fill="#365c8d"/><path d="M169.81 285.45l4.09 2.15 2.57-.36-4.08-2.15z" fill="#218e8d"/><path d="M231.58 301.92l4.14 .99 2.4-.92-4.14-.99z" fill="#3e4a89"/><path d="M220.88 300.47l4.13 1.19 2.43-.82-4.12-1.18z" fill="#3b518b"/><path d="M184.65 291.25l4.1 1.87 2.52-.49-4.09-1.85z" fill="#2a778e"/><path d="M270.19 302.46l4.2 .3 2.31-1.34-4.19-.29z" fill="#3e4c8a"/><path d="M242.27 302.88l4.16 .79 2.37-1.03-4.15-.79z" fill="#3f4889"/><path d="M210.19 298.52l4.12 1.38 2.45-.71-4.11-1.38z" fill="#375b8d"/><path d="M287.42 300.28l4.24 0 2.27-1.53-4.23 0z" fill="#38588c"/><path d="M252.96 303.34l4.18 .6 2.35-1.14-4.17-.6z" fill="#3f4889"/><path d="M199.48 296.07l4.11 1.58 2.48-.61-4.1-1.57z" fill="#31668e"/><path d="M173.9 287.6l4.1 2.06 2.56-.37-4.09-2.05z" fill="#23898e"/><path d="M280.91 301.62l4.22 .1 2.29-1.44-4.21-.09z" fill="#3a548c"/><path d="M263.67 303.3l4.19 .4 2.33-1.24-4.19-.4z" fill="#3e4c8a"/><path d="M188.75 293.12l4.1 1.77 2.52-.49-4.1-1.77z" fill="#2b748e"/><path d="M298.17 298.64l4.26-.19 2.25-1.64-4.25 .2z" fill="#32658e"/><path d="M225.01 301.66l4.15 1.09 2.42-.83-4.14-1.08z" fill="#3b528b"/><path d="M235.72 302.91l4.15 .9 2.4-.93-4.15-.89z" fill="#3d4d8a"/><path d="M214.31 299.9l4.13 1.29 2.44-.72-4.12-1.28z" fill="#375b8d"/><path d="M246.43 303.67l4.17 .71 2.36-1.04-4.16-.7z" fill="#3e4c8a"/><path d="M203.59 297.65l4.12 1.48 2.48-.61-4.12-1.48z" fill="#32658e"/><path d="M274.39 302.76l4.22 .21 2.3-1.35-4.21-.2z" fill="#3b528b"/><path d="M178 289.66l4.1 1.97 2.55-.38-4.09-1.96z" fill="#25858e"/><path d="M291.66 300.28l4.24-.09 2.27-1.55-4.24 .11z" fill="#34608d"/><path d="M257.14 303.94l4.19 .5 2.34-1.14-4.18-.5z" fill="#3d4d8a"/><path d="M192.85 294.89l4.12 1.68 2.51-.5-4.11-1.67z" fill="#2c728e"/><path d="M285.13 301.72l4.24 .01 2.29-1.45-4.24 0z" fill="#365c8d"/><path d="M267.86 303.7l4.21 .31 2.32-1.25-4.2-.3z" fill="#3b528b"/><path d="M229.16 302.75l4.15 1 2.41-.84-4.14-.99z" fill="#3a548c"/><path d="M218.44 301.19l4.13 1.2 2.44-.73-4.13-1.19z" fill="#375b8d"/><path d="M239.87 303.81l4.17 .8 2.39-.94-4.16-.79z" fill="#3c508b"/><path d="M182.1 291.63l4.11 1.88 2.54-.39-4.1-1.87z" fill="#26828e"/><path d="M207.71 299.13l4.13 1.39 2.47-.62-4.12-1.38z" fill="#32648e"/><path d="M250.6 304.38l4.18 .6 2.36-1.04-4.18-.6z" fill="#3c508b"/><path d="M196.97 296.57l4.12 1.59 2.5-.51-4.11-1.58z" fill="#2d718e"/><path d="M278.61 302.97l4.23 .1 2.29-1.35-4.22-.1z" fill="#375a8c"/><path d="M261.33 304.44l4.2 .41 2.33-1.15-4.19-.4z" fill="#3b528b"/><path d="M295.9 300.19l4.27-.2 2.26-1.54-4.26 .19z" fill="#30698e"/><path d="M186.21 293.51l4.11 1.78 2.53-.4-4.1-1.77z" fill="#277f8e"/><path d="M222.57 302.39l4.15 1.1 2.44-.74-4.15-1.09z" fill="#365c8d"/><path d="M233.31 303.75l4.16 .9 2.4-.84-4.15-.9z" fill="#39568c"/><path d="M211.84 300.52l4.13 1.3 2.47-.63-4.13-1.29z" fill="#32648e"/><path d="M244.04 304.61l4.18 .71 2.38-.94-4.17-.71z" fill="#3a548c"/><path d="M272.07 304.01l4.22 .21 2.32-1.25-4.22-.21z" fill="#38598c"/><path d="M289.37 301.73l4.26-.09 2.27-1.45-4.24 .09z" fill="#32658e"/><path d="M201.09 298.16l4.13 1.49 2.49-.52-4.12-1.48z" fill="#2e6f8e"/><path d="M254.78 304.98l4.19 .51 2.36-1.05-4.19-.5z" fill="#3a548c"/><path d="M190.32 295.29l4.12 1.69 2.53-.41-4.12-1.68z" fill="#287c8e"/><path d="M282.84 303.07l4.24 .01 2.29-1.35-4.24-.01z" fill="#33628d"/><path d="M265.53 304.85l4.21 .31 2.33-1.15-4.21-.31z" fill="#38598c"/><path d="M226.72 303.49l4.16 1 2.43-.74-4.15-1z" fill="#365d8d"/><path d="M215.97 301.82l4.15 1.2 2.45-.63-4.13-1.2z" fill="#32648e"/><path d="M237.47 304.65l4.17 .81 2.4-.85-4.17-.8z" fill="#38598c"/><path d="M205.22 299.65l4.13 1.4 2.49-.53-4.13-1.39z" fill="#2e6e8e"/><path d="M248.22 305.32l4.18 .61 2.38-.95-4.18-.6z" fill="#38588c"/><path d="M276.29 304.22l4.24 .11 2.31-1.26-4.23-.1z" fill="#34608d"/><path d="M194.44 296.98l4.13 1.59 2.52-.41-4.12-1.59z" fill="#297a8e"/><path d="M293.63 301.64l4.27-.19 2.27-1.46-4.27 .2z" fill="#2e6d8e"/><path d="M258.97 305.49l4.21 .42 2.35-1.06-4.2-.41z" fill="#375a8c"/><path d="M230.88 304.49l4.17 .91 2.42-.75-4.16-.9z" fill="#34608d"/><path d="M220.12 303.02l4.16 1.1 2.44-.63-4.15-1.1z" fill="#32658e"/><path d="M269.74 305.16l4.23 .22 2.32-1.16-4.22-.21z" fill="#355f8d"/><path d="M287.08 303.08l4.26-.08 2.29-1.36-4.26 .09z" fill="#306a8e"/><path d="M241.64 305.46l4.18 .72 2.4-.86-4.18-.71z" fill="#365d8d"/><path d="M209.35 301.05l4.15 1.3 2.47-.53-4.13-1.3z" fill="#2e6e8e"/><path d="M252.4 305.93l4.21 .52 2.36-.96-4.19-.51z" fill="#365d8d"/><path d="M198.57 298.57l4.14 1.5 2.51-.42-4.13-1.49z" fill="#29798e"/><path d="M280.53 304.33l4.25 .02 2.3-1.27-4.24-.01z" fill="#31678e"/><path d="M263.18 305.91l4.22 .31 2.34-1.06-4.21-.31z" fill="#34608d"/><path d="M224.28 304.12l4.16 1.02 2.44-.65-4.16-1z" fill="#31678e"/><path d="M235.05 305.4l4.18 .81 2.41-.75-4.17-.81z" fill="#33628d"/><path d="M213.5 302.35l4.15 1.21 2.47-.54-4.15-1.2z" fill="#2e6e8e"/><path d="M245.82 306.18l4.2 .61 2.38-.86-4.18-.61z" fill="#34618d"/><path d="M273.97 305.38l4.24 .12 2.32-1.17-4.24-.11z" fill="#31668e"/><path d="M202.71 300.07l4.14 1.4 2.5-.42-4.13-1.4z" fill="#2a788e"/><path d="M291.34 303l4.28-.19 2.28-1.36-4.27 .19z" fill="#2c718e"/><path d="M256.61 306.45l4.21 .42 2.36-.96-4.21-.42z" fill="#33628d"/><path d="M284.78 304.35l4.27-.08 2.29-1.27-4.26 .08z" fill="#2e6f8e"/><path d="M267.4 306.22l4.24 .23 2.33-1.07-4.23-.22z" fill="#31668e"/><path d="M228.44 305.14l4.18 .91 2.43-.65-4.17-.91z" fill="#30698e"/><path d="M217.65 303.56l4.17 1.11 2.46-.55-4.16-1.1z" fill="#2e6f8e"/><path d="M239.23 306.21l4.19 .72 2.4-.75-4.18-.72z" fill="#31668e"/><path d="M206.85 301.47l4.16 1.31 2.49-.43-4.15-1.3z" fill="#2a788e"/><path d="M250.02 306.79l4.21 .52 2.38-.86-4.21-.52z" fill="#32658e"/><path d="M278.21 305.5l4.26 .02 2.31-1.17-4.25-.02z" fill="#2e6e8e"/><path d="M260.82 306.87l4.23 .32 2.35-.97-4.22-.31z" fill="#31688e"/><path d="M221.82 304.67l4.17 1.02 2.45-.55-4.16-1.02z" fill="#2d718e"/><path d="M232.62 306.05l4.19 .82 2.42-.66-4.18-.81z" fill="#2f6c8e"/><path d="M211.01 302.78l4.16 1.22 2.48-.44-4.15-1.21z" fill="#2a788e"/><path d="M271.64 306.45l4.24 .12 2.33-1.07-4.24-.12z" fill="#2e6d8e"/><path d="M243.42 306.93l4.2 .63 2.4-.77-4.2-.61z" fill="#30698e"/><path d="M289.05 304.27l4.28-.18 2.29-1.28-4.28 .19z" fill="#2a778e"/><path d="M254.23 307.31l4.22 .43 2.37-.87-4.21-.42z" fill="#306a8e"/><path d="M282.47 305.52l4.27-.08 2.31-1.17-4.27 .08z" fill="#2b758e"/><path d="M265.05 307.19l4.24 .23 2.35-.97-4.24-.23z" fill="#2e6e8e"/><path d="M225.99 305.69l4.18 .92 2.45-.56-4.18-.91z" fill="#2c728e"/><path d="M215.17 304l4.17 1.12 2.48-.45-4.17-1.11z" fill="#29798e"/><path d="M236.81 306.87l4.2 .73 2.41-.67-4.19-.72z" fill="#2e6f8e"/><path d="M247.62 307.56l4.22 .52 2.39-.77-4.21-.52z" fill="#2e6e8e"/><path d="M275.88 306.57l4.27 .02 2.32-1.07-4.26-.02z" fill="#2b748e"/><path d="M258.45 307.74l4.24 .33 2.36-.88-4.23-.32z" fill="#2d708e"/><path d="M230.17 306.61l4.2 .83 2.44-.57-4.19-.82z" fill="#2b758e"/><path d="M219.34 305.12l4.18 1.02 2.47-.45-4.17-1.02z" fill="#297b8e"/><path d="M286.74 305.44l4.29-.17 2.3-1.18-4.28 .18z" fill="#287d8e"/><path d="M269.29 307.42l4.26 .13 2.33-.98-4.24-.12z" fill="#2b748e"/><path d="M241.01 307.6l4.21 .63 2.4-.67-4.2-.63z" fill="#2c728e"/><path d="M251.84 308.08l4.23 .43 2.38-.77-4.22-.43z" fill="#2c728e"/><path d="M280.15 306.59l4.28-.07 2.31-1.08-4.27 .08z" fill="#287c8e"/><path d="M262.69 308.07l4.24 .23 2.36-.88-4.24-.23z" fill="#2b758e"/><path d="M223.52 306.14l4.2 .93 2.45-.46-4.18-.92z" fill="#287d8e"/><path d="M234.37 307.44l4.21 .73 2.43-.57-4.2-.73z" fill="#2a788e"/><path d="M245.22 308.23l4.22 .53 2.4-.68-4.22-.52z" fill="#2a768e"/><path d="M273.55 307.55l4.27 .03 2.33-.99-4.27-.02z" fill="#297b8e"/><path d="M256.07 308.51l4.24 .34 2.38-.78-4.24-.33z" fill="#2a788e"/><path d="M284.43 306.52l4.29-.17 2.31-1.08-4.29 .17z" fill="#25838e"/><path d="M266.93 308.3l4.27 .13 2.35-.88-4.26-.13z" fill="#287c8e"/><path d="M227.72 307.07l4.2 .83 2.45-.46-4.2-.83z" fill="#277f8e"/><path d="M238.58 308.17l4.22 .63 2.42-.57-4.21-.63z" fill="#287c8e"/><path d="M249.44 308.76l4.24 .44 2.39-.69-4.23-.43z" fill="#297b8e"/><path d="M277.82 307.58l4.28-.07 2.33-.99-4.28 .07z" fill="#26828e"/><path d="M260.31 308.85l4.26 .23 2.36-.78-4.24-.23z" fill="#277e8e"/><path d="M231.92 307.9l4.22 .74 2.44-.47-4.21-.73z" fill="#26828e"/><path d="M271.2 308.43l4.28 .04 2.34-.89-4.27-.03z" fill="#26828e"/><path d="M242.8 308.8l4.23 .54 2.41-.58-4.22-.53z" fill="#27808e"/><path d="M253.68 309.2l4.25 .33 2.38-.68-4.24-.34z" fill="#26818e"/><path d="M282.1 307.51l4.31-.17 2.31-.99-4.29 .17z" fill="#228b8d"/><path d="M264.57 309.08l4.27 .14 2.36-.79-4.27-.13z" fill="#25848e"/><path d="M236.14 308.64l4.22 .64 2.44-.48-4.22-.63z" fill="#25858e"/><path d="M247.03 309.34l4.24 .44 2.41-.58-4.24-.44z" fill="#25848e"/><path d="M275.48 308.47l4.29-.07 2.33-.89-4.28 .07z" fill="#238a8d"/><path d="M257.93 309.53l4.26 .24 2.38-.69-4.26-.23z" fill="#24868e"/><path d="M268.84 309.22l4.28 .04 2.36-.79-4.28-.04z" fill="#228b8d"/><path d="M240.36 309.28l4.24 .54 2.43-.48-4.23-.54z" fill="#238a8d"/><path d="M251.27 309.78l4.26 .34 2.4-.59-4.25-.33z" fill="#238a8d"/><path d="M279.77 308.4l4.31-.16 2.33-.9-4.31 .17z" fill="#20928c"/><path d="M262.19 309.77l4.28 .15 2.37-.7-4.27-.14z" fill="#228d8d"/><path d="M244.6 309.82l4.25 .45 2.42-.49-4.24-.44z" fill="#218f8d"/><path d="M273.12 309.26l4.3-.06 2.35-.8-4.29 .07z" fill="#20928c"/><path d="M255.53 310.12l4.27 .25 2.39-.6-4.26-.24z" fill="#21908d"/><path d="M266.47 309.92l4.29 .04 2.36-.7-4.28-.04z" fill="#20938c"/><path d="M248.85 310.27l4.27 .35 2.41-.5-4.26-.34z" fill="#20938c"/><path d="M277.42 309.2l4.32-.16 2.34-.8-4.31 .16z" fill="#1f9a8a"/><path d="M259.8 310.37l4.29 .15 2.38-.6-4.28-.15z" fill="#1f968b"/><path d="M270.76 309.96l4.31-.05 2.35-.71-4.3 .06z" fill="#1e9b8a"/><path d="M253.12 310.62l4.28 .25 2.4-.5-4.27-.25z" fill="#1f998a"/><path d="M264.09 310.52l4.3 .04 2.37-.6-4.29-.04z" fill="#1e9d89"/><path d="M275.07 309.91l4.32-.16 2.35-.71-4.32 .16z" fill="#20a386"/><path d="M257.4 310.87l4.29 .15 2.4-.5-4.29-.15z" fill="#1fa088"/><path d="M268.39 310.56l4.31-.05 2.37-.6-4.31 .05z" fill="#20a486"/><path d="M261.69 311.02l4.31 .05 2.39-.51-4.3-.04z" fill="#22a785"/><path d="M272.7 310.51l4.33-.15 2.36-.61-4.32 .16z" fill="#26ad81"/><path d="M266 311.07l4.32-.05 2.38-.51-4.31 .05z" fill="#27ad81"/><path d="M270.32 311.02l4.34-.15 2.37-.51-4.33 .15z" fill="#32b67a"/></g></g></g><g><text font-size="11" x="234.936" y="36.6" text-anchor="middle">Response Surface: ingest_rate_eps</text><text font-size="11" x="234.936" y="49.224" text-anchor="middle">batch_size vs writer_threads</text></g><g><g><path d="M451.44 301.32L468.072 301.32L468.072 135L451.44 135z" fill="#ffffff"/></g><rect x="451.2" y="134.376" width="16.8" height="166.56" fill="url(#cbg)"/><g><g><g><defs><path id="m665ed53aa2" d="M0 0h3.36" stroke="#000" stroke-width=".96"/></defs><g><use x="468" y="284.616" stroke="#000" stroke-width=".96" href="#m665ed53aa2"/></g></g><g><text x="475.072" y="288.798" font-size="10">10000</text></g></g><g><g><g><use x="468" y="252.456" stroke="#000" stroke-width=".96" href="#m665ed53aa2"/></g></g><g><text x="475.072" y="256.518" font-size="10">15000</text></g></g><g><g><g><use x="468" y="219.816" stroke="#000" stroke-width=".96" href="#m665ed53aa2"/></g></g><g><text x="475.072" y="224.238" font-size="10">20000</text></g></g><g><g><g><use x="468" y="187.656" stroke="#000" stroke-width=".96" href="#m665ed53aa2"/></g></g><g><text x="475.072" y="191.958" font-size="10">25000</text></g></g><g><g><g><use x="468" y="155.496" stroke="#000" stroke-width=".96" href="#m665ed53aa2"/></g></g><g><text x="475.072" y="159.678" font-size="10">30000</text></g></g></g><g><path d="M451.2 134.376H468V300.936H451.2z" fill="none" stroke="#000" stroke-width=".96" stroke-linejoin="miter" stroke-linecap="square"/></g></g></g><defs><linearGradient id="cbg" x1="0" y1="1" x2="0" y2="0"><stop offset="0" stop-color="#60276e"/><stop offset=".0156" stop-color="#612c73"/><stop offset=".0312" stop-color="#623178"/><stop offset=".0469" stop-color="#63367c"/><stop offset=".0625" stop-color="#633b81"/><stop offset=".0781" stop-color="#643f85"/><stop offset=".0938" stop-color="#644489"/><stop offset=".1094" stop-color="#63488c"/><stop offset=".125" stop-color="#634c8f"/><stop offset=".1406" stop-color="#625092"/><stop offset=".1562" stop-color="#615594"/><stop offset=".1719" stop-color="#605996"/><stop offset=".1875" stop-color="#5e5d98"/><stop offset=".2031" stop-color="#5d6199"/><stop offset=".2188" stop-color="#5b659b"/><stop offset=".2344" stop-color="#5a689c"/><stop offset=".25" stop-color="#586c9d"/><stop offset=".2656" stop-color="#56709d"/><stop offset=".2812" stop-color="#55739e"/><stop offset=".2969" stop-color="#53779e"/><stop offset=".3125" stop-color="#517a9e"/><stop offset=".3281" stop-color="#507e9f"/><stop offset=".3438" stop-color="#4e819f"/><stop offset=".3594" stop-color="#4d849f"/><stop offset=".375" stop-color="#4c889f"/><stop offset=".3906" stop-color="#4a8b9f"/><stop offset=".4062" stop-color="#498e9f"/><stop offset=".4219" stop-color="#48919f"/><stop offset=".4375" stop-color="#47949f"/><stop offset=".4531" stop-color="#45989f"/><stop offset=".4688" stop-color="#449b9f"/><stop offset=".4844" stop-color="#439e9e"/><stop offset=".5" stop-color="#42a19e"/><stop offset=".5156" stop-color="#41a49d"/><stop offset=".5312" stop-color="#40a89c"/><stop offset=".5469" stop-color="#40ab9b"/><stop offset=".5625" stop-color="#40ae9a"/><stop offset=".5781" stop-color="#41b198"/><stop offset=".5938" stop-color="#43b497"/><stop offset=".6094" stop-color="#45b795"/><stop offset=".625" stop-color="#48ba93"/><stop offset=".6406" stop-color="#4cbe91"/><stop offset=".6562" stop-color="#51c18e"/><stop offset=".6719" stop-color="#56c48b"/><stop offset=".6875" stop-color="#5cc688"/><stop offset=".7031" stop-color="#62c985"/><stop offset=".7188" stop-color="#68cc81"/><stop offset=".7344" stop-color="#6fcf7d"/><stop offset=".75" stop-color="#76d179"/><stop offset=".7656" stop-color="#7ed475"/><stop offset=".7812" stop-color="#86d670"/><stop offset=".7969" stop-color="#8ed86b"/><stop offset=".8125" stop-color="#96da66"/><stop offset=".8281" stop-color="#9fdc61"/><stop offset=".8438" stop-color="#a7de5b"/><stop offset=".8594" stop-color="#b0e055"/><stop offset=".875" stop-color="#b9e14f"/><stop offset=".8906" stop-color="#c2e349"/><stop offset=".9062" stop-color="#cbe444"/><stop offset=".9219" stop-color="#d5e53f"/><stop offset=".9375" stop-color="#dee73c"/><stop offset=".9531" stop-color="#e6e83b"/><stop offset=".9688" stop-color="#efe93d"/><stop offset=".9844" stop-color="#f7ea41"/><stop offset="1" stop-color="#feeb45"/></linearGradient></defs></svg></body></html>
